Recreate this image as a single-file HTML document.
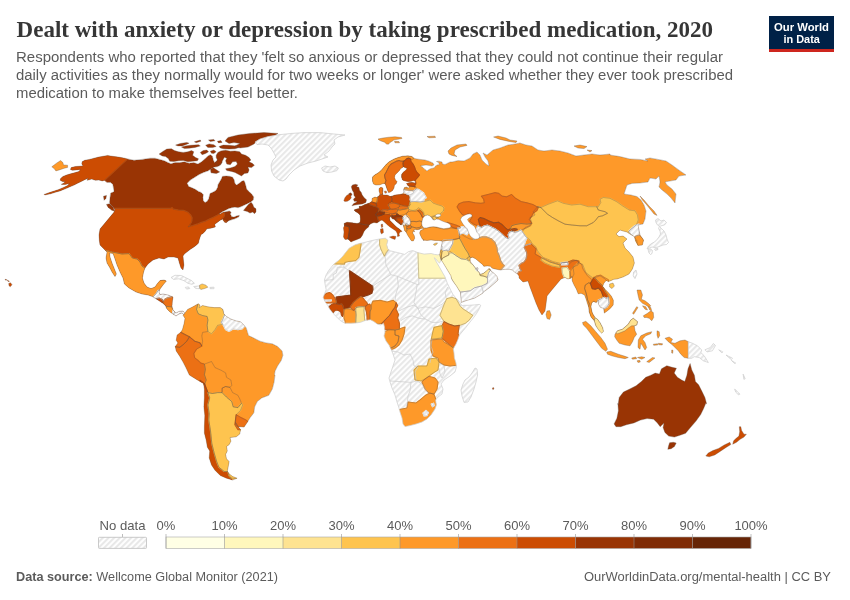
<!DOCTYPE html>
<html lang="en">
<head>
<meta charset="utf-8">
<title>Dealt with anxiety or depression by taking prescribed medication, 2020</title>
<style>
html,body{margin:0;padding:0;background:#fff;}
body{width:850px;height:600px;overflow:hidden;position:relative;font-family:"Liberation Sans",sans-serif;}
svg{position:absolute;left:0;top:0;}
.title{font-family:"Liberation Serif",serif;font-weight:bold;font-size:24px;fill:#363636;}
.sub{font-family:"Liberation Sans",sans-serif;font-size:14px;fill:#5b5b5b;}
.lg{font-family:"Liberation Sans",sans-serif;font-size:13px;fill:#5b5b5b;}
.ft{font-family:"Liberation Sans",sans-serif;font-size:12.5px;fill:#5b5b5b;}
.logo{font-family:"Liberation Sans",sans-serif;font-weight:bold;font-size:11.5px;fill:#fff;}
</style>
</head>
<body>
<svg width="850" height="600" viewBox="0 0 850 600">
<defs>
<pattern id="hatch" patternUnits="userSpaceOnUse" width="4" height="4" patternTransform="rotate(45)">
<rect width="4" height="4" fill="#fff"/>
<rect x="0" y="0" width="2.1" height="4" fill="#e8e8e8"/>
</pattern>
</defs>
<rect width="850" height="600" fill="#fff"/>
<!-- header -->
<text class="title" x="16.600" y="36.800" textLength="696.500" lengthAdjust="spacingAndGlyphs">Dealt with anxiety or depression by taking prescribed medication, 2020</text>
<text class="sub" x="16" y="62.100" textLength="707" lengthAdjust="spacingAndGlyphs">Respondents who reported that they 'felt so anxious or depressed that they could not continue their regular</text>
<text class="sub" x="16" y="80.200" textLength="717" lengthAdjust="spacingAndGlyphs">daily activities as they normally would for two weeks or longer' were asked whether they ever took prescribed</text>
<text class="sub" x="16" y="98" textLength="282" lengthAdjust="spacingAndGlyphs">medication to make themselves feel better.</text>
<!-- logo -->
<g id="logo">
<rect x="769" y="16" width="65" height="36" fill="#002147"/>
<rect x="769" y="49" width="65" height="3" fill="#ce261e"/>
<text class="logo" x="801.500" y="30.500" text-anchor="middle" textLength="55" lengthAdjust="spacingAndGlyphs">Our World</text>
<text class="logo" x="801.700" y="42.500" text-anchor="middle" textLength="36.500" lengthAdjust="spacingAndGlyphs">in Data</text>
</g>
<!-- map -->
<g id="map">
<defs>
<clipPath id="cp-nam"><path d="M127.6,158.9 122.4,157.7 116.5,156.8 111.8,156.2 107.6,155.4 103.5,156.2 98.8,157 94.1,158.2 89.4,159.4 84.7,160.3 82.1,161.7 81.8,163.8 82.9,165.9 80,166.2 75.3,166.5 71.2,167.6 70.4,169.5 72.4,170.3 76.5,169.9 80.6,169.5 78.8,171.5 75.3,172.6 70.6,173.8 66.5,175 62.9,176.5 60.6,178.5 60.2,180.3 62.4,181.5 65.3,181.7 63.5,183.2 61.2,184.4 65.3,184.4 69.4,183.6 67.6,185.6 63.5,187.4 58.8,189.5 54.1,191.1 49.4,192.6 44.1,194.4 44.7,195 50.6,193.8 55.3,192.3 60,190.9 64.7,189.1 69.4,187.1 74.1,185 77.6,183.2 81.2,181.5 84.7,179.7 88.2,178.2 87.1,180.3 91.8,179.1 95.3,180.3 98.8,180.1 102.4,180.9 104.5,180.3 107.1,182.4 110.6,182.6 112.9,184.4 113.5,188.5 114.1,191.5 112,192.6 110.6,193.2 110,197.9 109.4,202.6 110.6,205 113.5,207.4 114.7,209.1 114.1,212.1 100,229 99,235 99.4,241 100,245 105,250 107,252 106,258 107,263 110,268 112,272 115,276.6 116.4,274 114,268 112,263 110,257 109.6,253 113,253.4 115,259 117,265 120,272 123,278 124.4,284 129,288 136,292 142,294 148,295 152.4,296.6 157,299.4 161,302 165,305 167,309 170,312 173,314 176,316 179,314 182,313 184,315 184.4,312.6 183,311 179,311.4 176,313 173,310 172,306 172.4,301 173,297 168,295 163,294 160,294.6 159,292 160,289 163,285 166.4,281 164,280 160,280.6 157,284 155,287 151,288.6 147,287 144,283 142.4,278 143.6,272 145,268 148,264 153,260 159,258 164,259 168,257 174,257 178,258 179.4,263 181,268 183,270 183.9,265.1 183.4,259.9 183,256 184.3,254.1 186.9,252.1 190.1,249.5 194,246.9 196.6,245 198.5,243.1 198.9,241.1 199.8,237.9 201.1,234.6 202.4,234 205,231.4 206.9,228.8 210.8,228.2 215.4,226.9 214.7,224.3 217.3,222.4 219.9,220.4 221.6,219.5 222.4,219.1 224.6,222.3 226.2,222.7 228.4,220.9 231.6,219.8 234.9,218.8 238.7,217.1 239.4,215.3 237,215.8 233.8,217.1 231.6,216.4 230.5,214.2 231.1,212 229.4,210.9 226.2,211.5 222.9,212.6 220.2,214.2 219.1,213.9 221.9,212 225.1,210.4 228.4,208.8 231.6,207.7 234.9,207.2 238.1,207.7 241.4,206.6 244.6,205 247.9,203.4 251.1,201.7 253.3,200.1 253.8,196.9 251.7,194.1 249,191.4 246.8,189.3 246.2,187.1 245.2,183.3 244.1,180.6 241.9,181.1 239.2,183.3 236.5,184.9 234.9,183.3 234.3,180.1 232.7,177.3 230,176.3 226.2,176 222.4,176.3 221.3,179 219.7,181.7 218.1,184.4 217.5,187.6 215.9,190.4 213.2,192 209.9,193.6 209.4,195.8 208.8,198.5 207.2,201.2 205.1,202.5 203.4,200.7 202.9,197.4 203.4,194.7 201.3,192.5 198.6,191.4 195.3,189.3 191.5,187.6 188.8,186.6 187.2,183.3 190.4,180.1 194.8,177.3 199.1,174.6 203.4,172.5 208.3,170.8 210.5,169.2 214.4,167.1 217.4,166.7 220.3,165.3 222.1,162.4 220.9,159.4 218.5,158.8 216.8,160.8 214.4,162.4 213.2,159.4 212.4,156.1 210.3,154.7 207.9,155.9 205,158.8 201.5,161.8 197.9,163.9 193.8,162.6 189.1,163.2 184.4,161.8 179.7,162.6 175,162.6 170.9,163.8 167.9,162.4 164.4,160.8 159.7,159.4 155,158.2 150,158.2 142,159.4 134,160.2Z"/></clipPath>
<clipPath id="cp-sam"><path d="M185,312.9 187.6,309.4 192.9,306.8 198.2,303.8 200,305 199.1,307.6 202.6,305.5 207.9,306.8 214.1,307.6 220.3,307.6 222.9,309.4 223.8,313.8 226.5,316.5 230.9,319.1 236.2,320.9 240.6,321.8 244.1,325.3 246.2,327.9 247.6,332.4 248.5,335.5 252.9,337.6 260,341.2 266.2,342.9 272.3,343.8 277.6,346.5 282.1,350.9 282.9,355.3 281.2,360.6 277.6,365.9 275,371.2 274.5,374.9 275,375 274.1,382.1 272.3,389.1 268.8,395.3 261.8,397.9 257.3,401.5 254.7,406.8 253.8,412.9 250.3,417.4 247.6,421.8 244.1,427.1 237.9,426.5 235.6,422.6 237.9,426.2 240.6,429.7 239.7,434.1 236.2,436.8 230,437.6 230.9,441.2 229.1,444.7 226.5,446.5 227.3,450.9 225.6,454.4 226.5,458.8 229.1,461.5 228.2,466.8 227.3,471.2 229.1,473.8 232.6,476.5 237.1,478.2 232.6,480 226.5,478.2 220.3,475.6 215,470.3 211.5,465 209.2,457.9 209.7,450.9 207.4,447.3 206.2,440.3 204.4,433.2 204.4,426.2 204.8,415.6 203.9,406.8 204.4,397.9 204.4,389.1 203.5,383.5 196.5,379.4 189.4,375 185.9,367.6 183.2,362.3 179.7,356.2 176.2,350.9 175.3,346.5 177.9,342.9 176.2,340.3 177.1,335 180.6,332.4 182.4,329.7 184.1,323.5 185,318.2 183.2,315.6Z"/></clipPath>
<clipPath id="cp-afr"><path d="M359.7,243.5 365.9,242.1 372.9,240.3 380,238.9 385.3,238.2 387.9,240.3 386.7,244.7 387.9,249.1 390.6,250.9 397.6,252.6 404.7,254.4 408.2,251.8 412.6,250.5 417.9,252.6 424.1,254.1 431.2,253.5 434.4,254.4 437.5,254.8 439.8,254.4 441,259.4 440.5,261.2 439.5,263.1 437.5,261.2 435.6,258.8 434.4,257.8 435.6,260.6 437.5,263.8 440,268.1 442.5,272.5 445,276.9 447.3,283.3 450,288.7 452.7,294 455.3,297.3 458,300 460,302.7 461.3,304.7 460,306 464,305.3 469.3,305.3 474.7,304.9 479.3,304.4 480.7,305.3 479.3,308.7 476.7,313.3 473.3,318 470,322 466,327.3 462,332 459.3,335.3 458,339.3 456,344 453.3,348.7 454,353 454.4,358 456,363 456.4,367 455,372 450,376 444,380 441,384 443,389 442,394 438,397 435.6,400 436.4,405 435,409 431,415 427,419 422,422 416,424 410,425.6 405,426.6 403,424 402,418 400,412 399,408 397,402 395,395 392,388 390,382 389,378 391,372 393,366 395,360 393,354 391,349 389,345 386,341 384,336 385,332 384.4,326.8 383.5,323.2 380.9,325 377.3,324.1 373.8,321.5 370.3,319.7 365,320.6 360.6,322.3 356.2,322.9 350.9,323.2 344.7,323.2 340.3,320.6 336.8,317.1 333.2,313.5 329.7,309.1 327.9,305.6 325.3,302.1 323.2,297.6 324.4,294.1 326.2,289.7 325.3,285.3 324.4,280 326.2,274.7 328.8,270.3 332.4,265.9 335,263.2 338.5,260.6 342.1,257.1 345.6,252.6 349.1,248.2 355.3,244.7Z"/></clipPath>
<clipPath id="cp-eurasia"><path d="M351,242 349.5,240.5 348,239 345,239.5 343.5,237 344,232 343.5,228 344.5,225.5 344,223.5 347,222.2 352,222.8 357,223.5 360,222.5 360.5,219 360,215 358,213 355.5,211.5 354,210 356.5,209 359.5,208.5 359,206.5 362,206 365,204.5 368,203.5 370,202.8 372,201 372,198.5 375,197 376.5,197.5 379,196 380,194 379,191 379,188.5 381,187.2 382.8,188 383,190.5 382.5,193 383,195 387,195 390.5,196.5 395,195 400,194.5 403,193.5 404,192 403.5,189.5 404.5,187.5 407,187 408,188.5 409.5,187 407.5,185 406.5,183.5 409,182.8 412,182.5 415,183 416,182 414,180.5 411,181.2 408,181.5 405,181 402.5,180 401.5,177 401.5,174.5 403.5,172 406,170 407,168.5 405,167.5 403.5,166.8 402,167.8 400.5,168.8 399.5,170.5 397,173 395,175 394.5,177.5 395.5,180 397,181.5 396,184 394.5,185 394,188 392.5,190.5 390,192.2 388.5,192.5 387,189 386,186 385,183.5 383,183.5 380,184.8 376,185 373.5,184 372.5,181 372.5,177 374.5,175 378,173 381,170.5 384,167 386.5,164 389.5,161.5 394,159 398,157.5 402.5,156.2 408,155.8 412,156.5 414,158.2 417,159 421,159.5 425,160 429,161.2 433,163 434,165 432,166 429,165.5 426,165 423,165.5 420.5,166 423,167.5 425,169.5 427,171 429,169.5 431,168.5 434,168 435,166.5 437,165 439.5,164.5 438.5,162.5 436.5,161.5 439,161.2 442,162 442.5,164 445,164.5 448,163 450,162 452,162 458,160.6 464,161 470,158 473,154 477,152 480,155 482,160 486,164 489,166 488,161 485,157 483,153 487,155 493,150 500,148 508,145 515,144 520,143 526,145 532,146 538,150 544,151 552,150 560,151 568,153 576,156 584,155 592,154 600,155 610,154 610,155 620,156.6 630,159 640,159.4 648,161 645,159 650,158 658,159.4 666,161 672,165 678,169.4 686,175 679,176 676,180 670,181 665,182 667,185 672,189 676,194 675,203 671,198 667,194 662,190 659,187 660,182 659,176 656,179 650,178 648,182 640,183 632,183.4 627,185 624,194 631,195 637,196.6 641,200 644,205 646,211 645,219 643,224 638,225 638,225 639,230 640,235 643.6,240 642.4,245 638,245.4 635.6,241 634.4,236.6 631.6,235 629,233.4 627,232 623,231 620,230 616,234 619,236.6 623,236 627,239 623,243 625,248 629,252 633,257 634.4,263 632.4,269 629,274 623,277 617,279 613.8,279.3 611.4,280.4 608.5,281.6 606.2,280.4 603.8,283.3 602.7,286.3 605,289.2 608.5,292.7 611.4,296.2 613.4,300.3 613.2,304.9 610.3,308.4 606.8,311.3 604.4,313.1 603.8,309.6 603.8,308.4 600.3,307.3 598.6,304.3 598,300.3 596.3,302.6 593.3,301.4 591.6,303.2 591,306.7 591.6,310.2 592.5,313.3 595,317.5 597.5,319.2 600,322.5 602.6,327.4 603.5,331.4 601.7,333.2 599.2,330.8 595.8,325.8 594.2,320.8 590.9,316.7 589.1,311.7 588.7,306.7 587.5,303.8 586.3,299.7 584.6,295 581.1,293.3 578.2,293.8 576.4,289.2 574.1,285.1 572.3,281 571.8,276.3 571,278 568,279 565,277.4 561,279 556,285 551,291 547,296 546,304 545,311 542,315 539,310 536,303 533,295 530,287 528,281 523,282 519,278 519,276 517.5,273.8 515.6,273 514.1,271.5 512.3,270 509.3,269.3 505.5,269.3 502.5,269.6 500.6,270 498,269.6 495,268.9 492,268.1 490.5,266.3 487.5,265.9 483.8,266.3 482.5,264.4 479.4,261.9 475.6,258.8 472.5,257.2 470.6,257.8 470,258.8 470.6,261.9 473.1,265 475.6,268.1 476,269.4 476.9,267.5 478.1,268.1 477.5,270.6 479.4,272.5 480,274.4 483.8,273.1 486.9,270.6 488.8,268.8 489.8,268.8 491.2,271.2 493.8,273.1 496.9,276.2 498.1,280 496.3,281.7 492.9,284.7 489.4,287.7 485.9,290.3 483.3,292.1 482.5,293.4 479,295.5 474.7,298.1 470.3,299.4 466,300.7 461.2,302.5 461.2,300.7 460.8,296.4 460.4,292.5 458.6,289.5 456.5,286 453.9,282.5 451.7,279.1 450.8,275.6 448.7,272.1 446.1,267.8 443.5,263.5 441.3,260 441,259.4 439.8,254.4 440.2,251.9 441,248.8 441.5,245.6 442.2,242.5 442,241 439,240.5 435,240.5 431,240 427,240.5 423,240 424,240.3 422.3,239 421.3,237 420.3,235 419.7,233 420.3,231 421.3,230 423.7,229.3 423.3,228.3 421.3,228.5 419.3,229.3 417,229.7 415,229.3 413.7,230 414.7,231.7 413,231.3 412.7,233 414.3,235.7 414.7,238.3 413.3,241 411.3,240.7 409.7,238.3 408,235.7 406.7,233.3 406,231.7 404.7,230.7 404,228 403.3,225.3 402.2,224.3 401,225 398.3,222.9 395.7,220.9 394.3,219.3 392,218.7 391.3,217.3 391,216 389.5,218 390,220.5 393,223.5 396.5,227 400,229.5 402,231.5 400,232 399,234 399.5,236 397.5,236.5 397.5,234 396,231 393,229 390,227 387,224.5 384.5,222 382,220 379.5,221 379,221.5 377,223 374,222.5 371,223.5 369,225.2 368.5,227 366,229 364,231.5 362.5,235 360.5,238 357,239.5 353,241Z"/></clipPath>
</defs>
<g clip-path="url(#cp-nam)">
<path d="M127.6,158.9 122.4,157.7 116.5,156.8 111.8,156.2 107.6,155.4 103.5,156.2 98.8,157 94.1,158.2 89.4,159.4 84.7,160.3 82.1,161.7 81.8,163.8 82.9,165.9 80,166.2 75.3,166.5 71.2,167.6 70.4,169.5 72.4,170.3 76.5,169.9 80.6,169.5 78.8,171.5 75.3,172.6 70.6,173.8 66.5,175 62.9,176.5 60.6,178.5 60.2,180.3 62.4,181.5 65.3,181.7 63.5,183.2 61.2,184.4 65.3,184.4 69.4,183.6 67.6,185.6 63.5,187.4 58.8,189.5 54.1,191.1 49.4,192.6 44.1,194.4 44.7,195 50.6,193.8 55.3,192.3 60,190.9 64.7,189.1 69.4,187.1 74.1,185 77.6,183.2 81.2,181.5 84.7,179.7 88.2,178.2 87.1,180.3 91.8,179.1 95.3,180.3 98.8,180.1 102.4,180.9 104.5,180.3 107.1,182.4 110.6,182.6 112.9,184.4 113.5,188.5 114.1,191.5 112,192.6 110.6,193.2 110,197.9 109.4,202.6 110.6,205 113.5,207.4 114.7,209.1 114.1,212.1 100,229 99,235 99.4,241 100,245 105,250 107,252 106,258 107,263 110,268 112,272 115,276.6 116.4,274 114,268 112,263 110,257 109.6,253 113,253.4 115,259 117,265 120,272 123,278 124.4,284 129,288 136,292 142,294 148,295 152.4,296.6 157,299.4 161,302 165,305 167,309 170,312 173,314 176,316 179,314 182,313 184,315 184.4,312.6 183,311 179,311.4 176,313 173,310 172,306 172.4,301 173,297 168,295 163,294 160,294.6 159,292 160,289 163,285 166.4,281 164,280 160,280.6 157,284 155,287 151,288.6 147,287 144,283 142.4,278 143.6,272 145,268 148,264 153,260 159,258 164,259 168,257 174,257 178,258 179.4,263 181,268 183,270 183.9,265.1 183.4,259.9 183,256 184.3,254.1 186.9,252.1 190.1,249.5 194,246.9 196.6,245 198.5,243.1 198.9,241.1 199.8,237.9 201.1,234.6 202.4,234 205,231.4 206.9,228.8 210.8,228.2 215.4,226.9 214.7,224.3 217.3,222.4 219.9,220.4 221.6,219.5 222.4,219.1 224.6,222.3 226.2,222.7 228.4,220.9 231.6,219.8 234.9,218.8 238.7,217.1 239.4,215.3 237,215.8 233.8,217.1 231.6,216.4 230.5,214.2 231.1,212 229.4,210.9 226.2,211.5 222.9,212.6 220.2,214.2 219.1,213.9 221.9,212 225.1,210.4 228.4,208.8 231.6,207.7 234.9,207.2 238.1,207.7 241.4,206.6 244.6,205 247.9,203.4 251.1,201.7 253.3,200.1 253.8,196.9 251.7,194.1 249,191.4 246.8,189.3 246.2,187.1 245.2,183.3 244.1,180.6 241.9,181.1 239.2,183.3 236.5,184.9 234.9,183.3 234.3,180.1 232.7,177.3 230,176.3 226.2,176 222.4,176.3 221.3,179 219.7,181.7 218.1,184.4 217.5,187.6 215.9,190.4 213.2,192 209.9,193.6 209.4,195.8 208.8,198.5 207.2,201.2 205.1,202.5 203.4,200.7 202.9,197.4 203.4,194.7 201.3,192.5 198.6,191.4 195.3,189.3 191.5,187.6 188.8,186.6 187.2,183.3 190.4,180.1 194.8,177.3 199.1,174.6 203.4,172.5 208.3,170.8 210.5,169.2 214.4,167.1 217.4,166.7 220.3,165.3 222.1,162.4 220.9,159.4 218.5,158.8 216.8,160.8 214.4,162.4 213.2,159.4 212.4,156.1 210.3,154.7 207.9,155.9 205,158.8 201.5,161.8 197.9,163.9 193.8,162.6 189.1,163.2 184.4,161.8 179.7,162.6 175,162.6 170.9,163.8 167.9,162.4 164.4,160.8 159.7,159.4 155,158.2 150,158.2 142,159.4 134,160.2Z" fill="#993404"/>
<path d="M127.6,158.9 104.5,180.3 107.6,183.8 110.6,185.6 111.3,192.1 105.9,195 75.3,200.3 34.1,200.3 34.1,145 127.6,145Z" fill="#cc4c02" stroke="#cc4c02" stroke-width="1.2" stroke-linejoin="round"/>
<path d="M114,208.4 170.7,208.4 172,207.5 173.3,209.2 178.5,210.1 183.6,210.4 187.5,212 190.8,215.2 192.1,217.8 191.7,221.7 190.1,224.3 188.2,226.9 192.7,225.6 197.9,223.9 201.8,222.4 205.6,221.1 209.5,219.1 213.4,217.2 217.3,215.2 220.5,213.3 223.1,212.3 224.5,213 224.5,215.2 224,216.5 222.5,218.2 221.6,219.5 235,225 235,280 160,280 145.5,268.5 142,266 140,262 137,259 132.4,258 129,253.6 122,254 112,252 105,250.4 90,250 90,205Z" fill="#cc4c02" stroke="#cc4c02" stroke-width="1.2" stroke-linejoin="round"/>
<path d="M105,250.4 112,252 122,254 129,253.6 132.4,258 137,259 140,262 142,266 145.5,268.5 150,270 175,272 175,285 162.3,287.4 160.7,290 158.1,290.4 156.2,293.6 152.3,297.8 140,305 100,290 95,250Z" fill="#fe9929" stroke="#fe9929" stroke-width="1.2" stroke-linejoin="round"/>
<path d="M152.3,297.8 156.2,293.6 158.1,290.4 160.7,290 162.3,287.4 178.8,287.8 176.2,295.6 172.4,296.6 167.8,297.8 165.2,298.8 163.3,301.2 162.3,299.5 159.4,298.2 156.6,298.6 154.2,298.8Z" fill="url(#hatch)" stroke="url(#hatch)" stroke-width="1.2" stroke-linejoin="round"/>
<path d="M156.6,298.6 159.4,298.2 162.3,299.5 163.3,301.4 160.7,302.7 157.5,301.2Z" fill="#cc4c02" stroke="#cc4c02" stroke-width="1.2" stroke-linejoin="round"/>
<path d="M163.3,301.2 165.2,298.8 167.8,297.8 172.4,296.6 174.9,297.5 173.6,304 171.3,306.8 169.1,306.6 166.5,306.3 163.9,304Z" fill="#ec7014" stroke="#ec7014" stroke-width="1.2" stroke-linejoin="round"/>
<path d="M166.5,306.3 169.1,306.6 171.3,306.8 173,309.8 174.9,311.8 173,315 169.8,313.7 165.9,309.8Z" fill="#fe9929" stroke="#fe9929" stroke-width="1.2" stroke-linejoin="round"/>
<path d="M173,309.8 174.9,309.2 186.6,309.2 186.6,318.2 173.6,318.2 172.4,314.4Z" fill="url(#hatch)" stroke="url(#hatch)" stroke-width="1.2" stroke-linejoin="round"/>
<path d="M152.3,297.8 156.2,293.6 158.1,290.4 160.7,290 162.3,287.4 178.8,287.8 176.2,295.6 172.4,296.6 167.8,297.8 165.2,298.8 163.3,301.2 162.3,299.5 159.4,298.2 156.6,298.6 154.2,298.8Z" fill="none" stroke="#cdcdcd" stroke-width=".7" stroke-linejoin="round"/>
<path d="M173,309.8 174.9,309.2 186.6,309.2 186.6,318.2 173.6,318.2 172.4,314.4Z" fill="none" stroke="#cdcdcd" stroke-width=".7" stroke-linejoin="round"/>
<path d="M127.6,158.9 104.5,180.3 107.6,183.8 110.6,185.6 111.3,192.1 105.9,195 75.3,200.3 34.1,200.3 34.1,145 127.6,145Z" fill="none" stroke="#5e5048" stroke-opacity=".65" stroke-width=".5" stroke-linejoin="round"/>
<path d="M114,208.4 170.7,208.4 172,207.5 173.3,209.2 178.5,210.1 183.6,210.4 187.5,212 190.8,215.2 192.1,217.8 191.7,221.7 190.1,224.3 188.2,226.9 192.7,225.6 197.9,223.9 201.8,222.4 205.6,221.1 209.5,219.1 213.4,217.2 217.3,215.2 220.5,213.3 223.1,212.3 224.5,213 224.5,215.2 224,216.5 222.5,218.2 221.6,219.5 235,225 235,280 160,280 145.5,268.5 142,266 140,262 137,259 132.4,258 129,253.6 122,254 112,252 105,250.4 90,250 90,205Z" fill="none" stroke="#5e5048" stroke-opacity=".65" stroke-width=".5" stroke-linejoin="round"/>
<path d="M105,250.4 112,252 122,254 129,253.6 132.4,258 137,259 140,262 142,266 145.5,268.5 150,270 175,272 175,285 162.3,287.4 160.7,290 158.1,290.4 156.2,293.6 152.3,297.8 140,305 100,290 95,250Z" fill="none" stroke="#5e5048" stroke-opacity=".65" stroke-width=".5" stroke-linejoin="round"/>
<path d="M156.6,298.6 159.4,298.2 162.3,299.5 163.3,301.4 160.7,302.7 157.5,301.2Z" fill="none" stroke="#5e5048" stroke-opacity=".65" stroke-width=".5" stroke-linejoin="round"/>
<path d="M163.3,301.2 165.2,298.8 167.8,297.8 172.4,296.6 174.9,297.5 173.6,304 171.3,306.8 169.1,306.6 166.5,306.3 163.9,304Z" fill="none" stroke="#5e5048" stroke-opacity=".65" stroke-width=".5" stroke-linejoin="round"/>
<path d="M166.5,306.3 169.1,306.6 171.3,306.8 173,309.8 174.9,311.8 173,315 169.8,313.7 165.9,309.8Z" fill="none" stroke="#5e5048" stroke-opacity=".65" stroke-width=".5" stroke-linejoin="round"/>
</g>
<path d="M127.6,158.9 122.4,157.7 116.5,156.8 111.8,156.2 107.6,155.4 103.5,156.2 98.8,157 94.1,158.2 89.4,159.4 84.7,160.3 82.1,161.7 81.8,163.8 82.9,165.9 80,166.2 75.3,166.5 71.2,167.6 70.4,169.5 72.4,170.3 76.5,169.9 80.6,169.5 78.8,171.5 75.3,172.6 70.6,173.8 66.5,175 62.9,176.5 60.6,178.5 60.2,180.3 62.4,181.5 65.3,181.7 63.5,183.2 61.2,184.4 65.3,184.4 69.4,183.6 67.6,185.6 63.5,187.4 58.8,189.5 54.1,191.1 49.4,192.6 44.1,194.4 44.7,195 50.6,193.8 55.3,192.3 60,190.9 64.7,189.1 69.4,187.1 74.1,185 77.6,183.2 81.2,181.5 84.7,179.7 88.2,178.2 87.1,180.3 91.8,179.1 95.3,180.3 98.8,180.1 102.4,180.9 104.5,180.3 107.1,182.4 110.6,182.6 112.9,184.4 113.5,188.5 114.1,191.5 112,192.6 110.6,193.2 110,197.9 109.4,202.6 110.6,205 113.5,207.4 114.7,209.1 114.1,212.1 100,229 99,235 99.4,241 100,245 105,250 107,252 106,258 107,263 110,268 112,272 115,276.6 116.4,274 114,268 112,263 110,257 109.6,253 113,253.4 115,259 117,265 120,272 123,278 124.4,284 129,288 136,292 142,294 148,295 152.4,296.6 157,299.4 161,302 165,305 167,309 170,312 173,314 176,316 179,314 182,313 184,315 184.4,312.6 183,311 179,311.4 176,313 173,310 172,306 172.4,301 173,297 168,295 163,294 160,294.6 159,292 160,289 163,285 166.4,281 164,280 160,280.6 157,284 155,287 151,288.6 147,287 144,283 142.4,278 143.6,272 145,268 148,264 153,260 159,258 164,259 168,257 174,257 178,258 179.4,263 181,268 183,270 183.9,265.1 183.4,259.9 183,256 184.3,254.1 186.9,252.1 190.1,249.5 194,246.9 196.6,245 198.5,243.1 198.9,241.1 199.8,237.9 201.1,234.6 202.4,234 205,231.4 206.9,228.8 210.8,228.2 215.4,226.9 214.7,224.3 217.3,222.4 219.9,220.4 221.6,219.5 222.4,219.1 224.6,222.3 226.2,222.7 228.4,220.9 231.6,219.8 234.9,218.8 238.7,217.1 239.4,215.3 237,215.8 233.8,217.1 231.6,216.4 230.5,214.2 231.1,212 229.4,210.9 226.2,211.5 222.9,212.6 220.2,214.2 219.1,213.9 221.9,212 225.1,210.4 228.4,208.8 231.6,207.7 234.9,207.2 238.1,207.7 241.4,206.6 244.6,205 247.9,203.4 251.1,201.7 253.3,200.1 253.8,196.9 251.7,194.1 249,191.4 246.8,189.3 246.2,187.1 245.2,183.3 244.1,180.6 241.9,181.1 239.2,183.3 236.5,184.9 234.9,183.3 234.3,180.1 232.7,177.3 230,176.3 226.2,176 222.4,176.3 221.3,179 219.7,181.7 218.1,184.4 217.5,187.6 215.9,190.4 213.2,192 209.9,193.6 209.4,195.8 208.8,198.5 207.2,201.2 205.1,202.5 203.4,200.7 202.9,197.4 203.4,194.7 201.3,192.5 198.6,191.4 195.3,189.3 191.5,187.6 188.8,186.6 187.2,183.3 190.4,180.1 194.8,177.3 199.1,174.6 203.4,172.5 208.3,170.8 210.5,169.2 214.4,167.1 217.4,166.7 220.3,165.3 222.1,162.4 220.9,159.4 218.5,158.8 216.8,160.8 214.4,162.4 213.2,159.4 212.4,156.1 210.3,154.7 207.9,155.9 205,158.8 201.5,161.8 197.9,163.9 193.8,162.6 189.1,163.2 184.4,161.8 179.7,162.6 175,162.6 170.9,163.8 167.9,162.4 164.4,160.8 159.7,159.4 155,158.2 150,158.2 142,159.4 134,160.2Z" fill="none" stroke="#5e5048" stroke-opacity=".65" stroke-width=".5" stroke-linejoin="round"/>
<g clip-path="url(#cp-sam)">
<path d="M185,312.9 187.6,309.4 192.9,306.8 198.2,303.8 200,305 199.1,307.6 202.6,305.5 207.9,306.8 214.1,307.6 220.3,307.6 222.9,309.4 223.8,313.8 226.5,316.5 230.9,319.1 236.2,320.9 240.6,321.8 244.1,325.3 246.2,327.9 247.6,332.4 248.5,335.5 252.9,337.6 260,341.2 266.2,342.9 272.3,343.8 277.6,346.5 282.1,350.9 282.9,355.3 281.2,360.6 277.6,365.9 275,371.2 274.5,374.9 275,375 274.1,382.1 272.3,389.1 268.8,395.3 261.8,397.9 257.3,401.5 254.7,406.8 253.8,412.9 250.3,417.4 247.6,421.8 244.1,427.1 237.9,426.5 235.6,422.6 237.9,426.2 240.6,429.7 239.7,434.1 236.2,436.8 230,437.6 230.9,441.2 229.1,444.7 226.5,446.5 227.3,450.9 225.6,454.4 226.5,458.8 229.1,461.5 228.2,466.8 227.3,471.2 229.1,473.8 232.6,476.5 237.1,478.2 232.6,480 226.5,478.2 220.3,475.6 215,470.3 211.5,465 209.2,457.9 209.7,450.9 207.4,447.3 206.2,440.3 204.4,433.2 204.4,426.2 204.8,415.6 203.9,406.8 204.4,397.9 204.4,389.1 203.5,383.5 196.5,379.4 189.4,375 185.9,367.6 183.2,362.3 179.7,356.2 176.2,350.9 175.3,346.5 177.9,342.9 176.2,340.3 177.1,335 180.6,332.4 182.4,329.7 184.1,323.5 185,318.2 183.2,315.6Z" fill="#fe9929"/>
<path d="M198.2,302.4 196.5,309.4 198.2,313.8 202.6,315.6 207.1,316.5 207.9,320 207.1,325.3 207.9,331.5 202.6,332.4 201.8,335.9 202.6,341.2 201.8,346.1 200,342.9 194.7,341.2 189.4,336.8 185.9,335 180.9,332.4 177.1,330.6 178.8,307.6 191.2,300.6Z" fill="#fe9929" stroke="#fe9929" stroke-width="1.2" stroke-linejoin="round"/>
<path d="M198.2,302.4 196.5,309.4 198.2,313.8 202.6,315.6 207.1,316.5 207.9,320 207.1,325.3 207.9,331.5 211.5,333.8 215,329.7 217.6,325.3 222.9,324.4 221.2,322.6 222.9,319.1 224.7,314.7 222.9,309.4 222.9,304.1Z" fill="#fec44f" stroke="#fec44f" stroke-width="1.2" stroke-linejoin="round"/>
<path d="M222.9,307.6 224.7,314.7 222.9,319.1 221.2,322.6 222.9,324.4 225.6,329.7 229.1,331.5 233.5,328.8 237.9,329.7 242.3,328.8 245.5,325.3 247.6,321.8 231.8,311.2Z" fill="url(#hatch)" stroke="url(#hatch)" stroke-width="1.2" stroke-linejoin="round"/>
<path d="M180.9,332.4 185.9,335 189.4,336.8 186.8,341.2 183.2,344.7 179.7,347.3 173.5,346.5 173.5,332.4Z" fill="#ec7014" stroke="#ec7014" stroke-width="1.2" stroke-linejoin="round"/>
<path d="M179.7,347.3 183.2,344.7 186.8,341.2 189.4,336.8 194.7,341.2 200,342.9 201.8,346.1 196.5,349.1 193.8,353.5 194.7,357.9 198.2,360.6 200.9,363.2 204.4,364.1 205.3,369.4 204.4,374.7 206.2,380 204.9,384.4 196.5,385.3 173.5,357.1 173.5,346.5Z" fill="#ec7014" stroke="#ec7014" stroke-width="1.2" stroke-linejoin="round"/>
<path d="M204.4,364.1 211.5,361.5 215,367.6 221.2,370.3 225.6,372.9 226.5,377.3 230.9,380 231.8,385.3 230,387.4 225.6,386.5 222.1,388.2 222.1,392.6 217.6,392.6 212.4,393.5 207.9,392.6 204.4,383.5 206.2,380 204.4,374.7 205.3,369.4Z" fill="#fe9929" stroke="#fe9929" stroke-width="1.2" stroke-linejoin="round"/>
<path d="M222.1,388.2 225.6,386.5 230,387.4 232.6,392.6 237.9,395.3 239.7,398.8 241.5,403.2 237.9,407.6 233.2,406.8 231.8,401.5 226.5,397.1 222.1,392.6Z" fill="#fe9929" stroke="#fe9929" stroke-width="1.2" stroke-linejoin="round"/>
<path d="M200,380.3 204.4,383.5 207.9,392.6 209.7,397.9 207.9,405 209.2,413.8 208.8,420 210.6,431.8 211.8,443.5 214.1,452.9 216.5,461.2 218.8,467.1 224.1,471.5 227.9,471.5 228.8,475.3 230.9,477.9 232.4,482.4 201.8,482.4 199.4,420Z" fill="#cc4c02" stroke="#cc4c02" stroke-width="1.2" stroke-linejoin="round"/>
<path d="M207.9,392.6 212.4,393.5 217.6,392.6 222.1,392.6 226.5,397.1 231.8,401.5 233.2,406.8 237.9,407.6 241.5,403.2 242.7,405 240.6,410.3 236.2,414.7 235.6,419.1 235.3,424.4 244.1,433.2 248.8,443.5 248.8,481.2 230.9,477.9 228.8,475.3 227.9,471.5 224.1,471.5 218.8,467.1 216.5,461.2 214.1,452.9 211.8,443.5 210.6,431.8 208.8,420 209.2,413.8 207.9,405 209.7,397.9Z" fill="#fec44f" stroke="#fec44f" stroke-width="1.2" stroke-linejoin="round"/>
<path d="M236.2,414.7 240.6,417.4 245.9,420 248,421.8 247.6,429.7 237.9,429.7 234.9,424.8 235.6,419.1Z" fill="#ec7014" stroke="#ec7014" stroke-width="1.2" stroke-linejoin="round"/>
<path d="M222.9,307.6 224.7,314.7 222.9,319.1 221.2,322.6 222.9,324.4 225.6,329.7 229.1,331.5 233.5,328.8 237.9,329.7 242.3,328.8 245.5,325.3 247.6,321.8 231.8,311.2Z" fill="none" stroke="#cdcdcd" stroke-width=".7" stroke-linejoin="round"/>
<path d="M198.2,302.4 196.5,309.4 198.2,313.8 202.6,315.6 207.1,316.5 207.9,320 207.1,325.3 207.9,331.5 202.6,332.4 201.8,335.9 202.6,341.2 201.8,346.1 200,342.9 194.7,341.2 189.4,336.8 185.9,335 180.9,332.4 177.1,330.6 178.8,307.6 191.2,300.6Z" fill="none" stroke="#5e5048" stroke-opacity=".65" stroke-width=".5" stroke-linejoin="round"/>
<path d="M198.2,302.4 196.5,309.4 198.2,313.8 202.6,315.6 207.1,316.5 207.9,320 207.1,325.3 207.9,331.5 211.5,333.8 215,329.7 217.6,325.3 222.9,324.4 221.2,322.6 222.9,319.1 224.7,314.7 222.9,309.4 222.9,304.1Z" fill="none" stroke="#5e5048" stroke-opacity=".65" stroke-width=".5" stroke-linejoin="round"/>
<path d="M180.9,332.4 185.9,335 189.4,336.8 186.8,341.2 183.2,344.7 179.7,347.3 173.5,346.5 173.5,332.4Z" fill="none" stroke="#5e5048" stroke-opacity=".65" stroke-width=".5" stroke-linejoin="round"/>
<path d="M179.7,347.3 183.2,344.7 186.8,341.2 189.4,336.8 194.7,341.2 200,342.9 201.8,346.1 196.5,349.1 193.8,353.5 194.7,357.9 198.2,360.6 200.9,363.2 204.4,364.1 205.3,369.4 204.4,374.7 206.2,380 204.9,384.4 196.5,385.3 173.5,357.1 173.5,346.5Z" fill="none" stroke="#5e5048" stroke-opacity=".65" stroke-width=".5" stroke-linejoin="round"/>
<path d="M204.4,364.1 211.5,361.5 215,367.6 221.2,370.3 225.6,372.9 226.5,377.3 230.9,380 231.8,385.3 230,387.4 225.6,386.5 222.1,388.2 222.1,392.6 217.6,392.6 212.4,393.5 207.9,392.6 204.4,383.5 206.2,380 204.4,374.7 205.3,369.4Z" fill="none" stroke="#5e5048" stroke-opacity=".65" stroke-width=".5" stroke-linejoin="round"/>
<path d="M222.1,388.2 225.6,386.5 230,387.4 232.6,392.6 237.9,395.3 239.7,398.8 241.5,403.2 237.9,407.6 233.2,406.8 231.8,401.5 226.5,397.1 222.1,392.6Z" fill="none" stroke="#5e5048" stroke-opacity=".65" stroke-width=".5" stroke-linejoin="round"/>
<path d="M200,380.3 204.4,383.5 207.9,392.6 209.7,397.9 207.9,405 209.2,413.8 208.8,420 210.6,431.8 211.8,443.5 214.1,452.9 216.5,461.2 218.8,467.1 224.1,471.5 227.9,471.5 228.8,475.3 230.9,477.9 232.4,482.4 201.8,482.4 199.4,420Z" fill="none" stroke="#5e5048" stroke-opacity=".65" stroke-width=".5" stroke-linejoin="round"/>
<path d="M207.9,392.6 212.4,393.5 217.6,392.6 222.1,392.6 226.5,397.1 231.8,401.5 233.2,406.8 237.9,407.6 241.5,403.2 242.7,405 240.6,410.3 236.2,414.7 235.6,419.1 235.3,424.4 244.1,433.2 248.8,443.5 248.8,481.2 230.9,477.9 228.8,475.3 227.9,471.5 224.1,471.5 218.8,467.1 216.5,461.2 214.1,452.9 211.8,443.5 210.6,431.8 208.8,420 209.2,413.8 207.9,405 209.7,397.9Z" fill="none" stroke="#5e5048" stroke-opacity=".65" stroke-width=".5" stroke-linejoin="round"/>
<path d="M236.2,414.7 240.6,417.4 245.9,420 248,421.8 247.6,429.7 237.9,429.7 234.9,424.8 235.6,419.1Z" fill="none" stroke="#5e5048" stroke-opacity=".65" stroke-width=".5" stroke-linejoin="round"/>
</g>
<path d="M185,312.9 187.6,309.4 192.9,306.8 198.2,303.8 200,305 199.1,307.6 202.6,305.5 207.9,306.8 214.1,307.6 220.3,307.6 222.9,309.4 223.8,313.8 226.5,316.5 230.9,319.1 236.2,320.9 240.6,321.8 244.1,325.3 246.2,327.9 247.6,332.4 248.5,335.5 252.9,337.6 260,341.2 266.2,342.9 272.3,343.8 277.6,346.5 282.1,350.9 282.9,355.3 281.2,360.6 277.6,365.9 275,371.2 274.5,374.9 275,375 274.1,382.1 272.3,389.1 268.8,395.3 261.8,397.9 257.3,401.5 254.7,406.8 253.8,412.9 250.3,417.4 247.6,421.8 244.1,427.1 237.9,426.5 235.6,422.6 237.9,426.2 240.6,429.7 239.7,434.1 236.2,436.8 230,437.6 230.9,441.2 229.1,444.7 226.5,446.5 227.3,450.9 225.6,454.4 226.5,458.8 229.1,461.5 228.2,466.8 227.3,471.2 229.1,473.8 232.6,476.5 237.1,478.2 232.6,480 226.5,478.2 220.3,475.6 215,470.3 211.5,465 209.2,457.9 209.7,450.9 207.4,447.3 206.2,440.3 204.4,433.2 204.4,426.2 204.8,415.6 203.9,406.8 204.4,397.9 204.4,389.1 203.5,383.5 196.5,379.4 189.4,375 185.9,367.6 183.2,362.3 179.7,356.2 176.2,350.9 175.3,346.5 177.9,342.9 176.2,340.3 177.1,335 180.6,332.4 182.4,329.7 184.1,323.5 185,318.2 183.2,315.6Z" fill="none" stroke="#5e5048" stroke-opacity=".65" stroke-width=".5" stroke-linejoin="round"/>
<g clip-path="url(#cp-afr)">
<path d="M359.7,243.5 365.9,242.1 372.9,240.3 380,238.9 385.3,238.2 387.9,240.3 386.7,244.7 387.9,249.1 390.6,250.9 397.6,252.6 404.7,254.4 408.2,251.8 412.6,250.5 417.9,252.6 424.1,254.1 431.2,253.5 434.4,254.4 437.5,254.8 439.8,254.4 441,259.4 440.5,261.2 439.5,263.1 437.5,261.2 435.6,258.8 434.4,257.8 435.6,260.6 437.5,263.8 440,268.1 442.5,272.5 445,276.9 447.3,283.3 450,288.7 452.7,294 455.3,297.3 458,300 460,302.7 461.3,304.7 460,306 464,305.3 469.3,305.3 474.7,304.9 479.3,304.4 480.7,305.3 479.3,308.7 476.7,313.3 473.3,318 470,322 466,327.3 462,332 459.3,335.3 458,339.3 456,344 453.3,348.7 454,353 454.4,358 456,363 456.4,367 455,372 450,376 444,380 441,384 443,389 442,394 438,397 435.6,400 436.4,405 435,409 431,415 427,419 422,422 416,424 410,425.6 405,426.6 403,424 402,418 400,412 399,408 397,402 395,395 392,388 390,382 389,378 391,372 393,366 395,360 393,354 391,349 389,345 386,341 384,336 385,332 384.4,326.8 383.5,323.2 380.9,325 377.3,324.1 373.8,321.5 370.3,319.7 365,320.6 360.6,322.3 356.2,322.9 350.9,323.2 344.7,323.2 340.3,320.6 336.8,317.1 333.2,313.5 329.7,309.1 327.9,305.6 325.3,302.1 323.2,297.6 324.4,294.1 326.2,289.7 325.3,285.3 324.4,280 326.2,274.7 328.8,270.3 332.4,265.9 335,263.2 338.5,260.6 342.1,257.1 345.6,252.6 349.1,248.2 355.3,244.7Z" fill="url(#hatch)"/>
<path d="M361.2,243.4 359.9,251.6 358.9,257.4 355.4,260.7 348.8,261.5 344.7,262.5 344.7,264.1 334.5,263.8 329.9,266.4 329.9,254.9 349.7,241.7Z" fill="#fec44f" stroke="#fec44f" stroke-width="1.2" stroke-linejoin="round"/>
<path d="M379.6,237.6 386.2,236.8 389.7,240.3 387.4,244.7 388.8,249.1 386.2,252.6 384.4,256.2 382.6,252.6 380.9,249.1 379.6,244.7Z" fill="#fee391" stroke="#fee391" stroke-width="1.2" stroke-linejoin="round"/>
<path d="M417.9,250.9 418.8,278.2 445.3,278.2 448.8,275.6 442.5,262.5 441,259.4 439.8,254.4 439.8,251.9Z" fill="#fff7bc" stroke="#fff7bc" stroke-width="1.2" stroke-linejoin="round"/>
<path d="M349.4,270.7 350,271 372.7,286.2 372.9,289.5 371.8,293.3 368.8,294.8 364.3,296.3 360.9,296.6 357.5,298.9 354.9,301.1 353,303 351.1,305.6 350,307.5 346.6,308.3 344,309 342.9,306.4 341.8,303.8 339.5,304.5 336.5,303.8 336.1,300 336.1,297 350.8,295.1 350.4,285 349.9,277.5Z" fill="#993404" stroke="#993404" stroke-width="1.2" stroke-linejoin="round"/>
<path d="M321.5,297.8 324.9,294.8 326.8,293.3 329.4,292.5 331.3,293.6 333.1,295.5 334.6,297.8 335.8,300 336.5,302.6 334.3,303 331.3,302.6 328.3,303 325.3,303 321.5,303Z" fill="#ec7014" stroke="#ec7014" stroke-width="1.2" stroke-linejoin="round"/>
<path d="M323,300.2 327.5,300.1 331.3,299.9 331.3,300.8 327.5,301.1 323,301.2Z" fill="url(#hatch)" stroke="url(#hatch)" stroke-width="1.2" stroke-linejoin="round"/>
<path d="M329,306.8 331.3,304.9 333.5,303.8 336.5,303.8 339.5,304.5 341.8,303.8 343.3,306.4 344,309.8 343.6,313.5 342.5,316.5 341.4,315 341,312.4 339.5,310.9 337.6,310.1 335.8,309.8 334.3,310.9 332.8,312.8 331.3,310.5 329.8,308.6 327.5,307.5Z" fill="#cc4c02" stroke="#cc4c02" stroke-width="1.2" stroke-linejoin="round"/>
<path d="M344,309.8 346.6,308.9 350,309 351.9,309.8 353.4,310.5 355.6,310.9 356,315 355.9,318.8 355.6,324 345.5,324.8 345.1,321 344,318 343.9,313.5Z" fill="#fe9929" stroke="#fe9929" stroke-width="1.2" stroke-linejoin="round"/>
<path d="M351.1,305.6 353,303 354.9,301.1 357.5,298.9 360.9,296.6 363.1,298.1 365,300.8 366.9,302.6 367.6,304.5 365.4,306.2 362.4,306.6 359,306.9 356,307.4 355.4,309.2 353.4,310.1 351.9,308.6 350,307.5Z" fill="#ec7014" stroke="#ec7014" stroke-width="1.2" stroke-linejoin="round"/>
<path d="M356,307.5 359,306.9 362.4,306.8 364.3,307.1 363.9,310.5 364.3,315 364.6,318.8 364.6,324 355.9,324 355.9,318.8 356.2,315 355.9,310.9Z" fill="#fee391" stroke="#fee391" stroke-width="1.2" stroke-linejoin="round"/>
<path d="M365.6,306.4 367.6,304.7 369.5,304.1 371,305.6 371.4,309 369.9,311.3 369.5,315 369.4,321 367.3,321 366.9,315 366.1,310.5 365.4,308.3Z" fill="#ec7014" stroke="#ec7014" stroke-width="1.2" stroke-linejoin="round"/>
<path d="M371.2,305.6 372.9,301.2 380,300.3 387.1,302.1 393.2,300.3 396.2,302.9 395,307.3 392.3,310.9 389.7,315.3 386.2,318.8 382.6,323.2 378.2,324.1 373.8,323.2 370.3,321.5 370.3,312.6Z" fill="#fe9929" stroke="#fe9929" stroke-width="1.2" stroke-linejoin="round"/>
<path d="M396.2,302.9 397.6,305.6 395.9,309.1 398.5,314.4 397.6,317.9 399.4,323.2 399.4,329.4 395,329.9 389.7,329.4 384.4,329.4 381.8,323.2 386.2,318.8 389.7,315.3 392.3,310.9 395,307.3Z" fill="#ec7014" stroke="#ec7014" stroke-width="1.2" stroke-linejoin="round"/>
<path d="M383,332 389,330 395,330 395,335 399,336 398,342 395,346 391,348 388,347 383,339Z" fill="#fe9929" stroke="#fe9929" stroke-width="1.2" stroke-linejoin="round"/>
<path d="M395,330 399,329 405,327 404,334 402,340 399,345 395,348 391,349.6 389,347 391,348 395,346 398,342 399,336 395,335Z" fill="#fe9929" stroke="#fe9929" stroke-width="1.2" stroke-linejoin="round"/>
<path d="M446.7,298.7 452,297.3 456,298.7 458.7,303.3 460,306 462.7,308.7 466.7,311.3 472.7,315.3 469.3,320 465.3,323.3 460,325.3 454.7,326 448.7,324 444,321.3 440,315.3 442,310 444,304.7Z" fill="#fee391" stroke="#fee391" stroke-width="1.2" stroke-linejoin="round"/>
<path d="M444,321.7 448.7,324 454.7,326 459.3,325.3 458.7,328.7 458,334 461.3,339.3 456,347.3 453.3,348 448.7,344 442,338 443.3,331.3 442,326Z" fill="#ec7014" stroke="#ec7014" stroke-width="1.2" stroke-linejoin="round"/>
<path d="M434,327.3 442,325.7 443.3,331.3 442,338 431.3,339.1 432.7,332.7Z" fill="#fec44f" stroke="#fec44f" stroke-width="1.2" stroke-linejoin="round"/>
<path d="M431,340 442,339 444,342 454,348 459,353 458,359 459,365 450,366 444,365 439,362 438,358 433,356 431,350Z" fill="#fe9929" stroke="#fe9929" stroke-width="1.2" stroke-linejoin="round"/>
<path d="M414,370 418,366 427,366 429,359 436,358 439,362 438,370 434,372.4 429,376 425,379 421,381 415,380Z" fill="#fec44f" stroke="#fec44f" stroke-width="1.2" stroke-linejoin="round"/>
<path d="M422,382 425,379 429,376.4 435,378 438,382 437,389 434,394 429,393 425,389Z" fill="#fe9929" stroke="#fe9929" stroke-width="1.2" stroke-linejoin="round"/>
<path d="M397,410 407,408 408,402 416,403 420,400 426,395 430,393 434,394.4 436,400 439,410 416,430 402,430 396,414Z" fill="#fe9929" stroke="#fe9929" stroke-width="1.2" stroke-linejoin="round"/>
<path d="M423,413 426,410.4 428.4,412.4 427,415.6 424,416Z" fill="url(#hatch)" stroke="url(#hatch)" stroke-width="1.2" stroke-linejoin="round"/>
<path d="M431.2,404 433.6,403.2 434.4,405.6 432.4,406.8Z" fill="url(#hatch)" stroke="url(#hatch)" stroke-width="1.2" stroke-linejoin="round"/>
<path d="M323,300.2 327.5,300.1 331.3,299.9 331.3,300.8 327.5,301.1 323,301.2Z" fill="none" stroke="#cdcdcd" stroke-width=".7" stroke-linejoin="round"/>
<path d="M423,413 426,410.4 428.4,412.4 427,415.6 424,416Z" fill="none" stroke="#cdcdcd" stroke-width=".7" stroke-linejoin="round"/>
<path d="M431.2,404 433.6,403.2 434.4,405.6 432.4,406.8Z" fill="none" stroke="#cdcdcd" stroke-width=".7" stroke-linejoin="round"/>
<path d="M324.9,280.4 333.2,279.6 333.2,274.7 336.5,273 337.3,267.2 343.9,267.2 343.9,263.9" fill="none" stroke="#cdcdcd" stroke-width=".7" stroke-linejoin="round"/>
<path d="M343.9,267.2 349.7,271" fill="none" stroke="#cdcdcd" stroke-width=".7" stroke-linejoin="round"/>
<path d="M372.7,286.2 380.1,281.2 390.8,274.7 388.4,269.7 385.9,264.8 385.1,256.5 387.5,251.6 389.2,249.6" fill="none" stroke="#cdcdcd" stroke-width=".7" stroke-linejoin="round"/>
<path d="M390.8,274.7 397.4,276.3 398.3,286.2 395.8,294.4 395,301" fill="none" stroke="#cdcdcd" stroke-width=".7" stroke-linejoin="round"/>
<path d="M397.4,276.3 417.2,284.5 418.8,284.5 418.8,277.9" fill="none" stroke="#cdcdcd" stroke-width=".7" stroke-linejoin="round"/>
<path d="M417.2,284.5 415.6,294.4 413.9,302.7 418,308.4" fill="none" stroke="#cdcdcd" stroke-width=".7" stroke-linejoin="round"/>
<path d="M399.1,310.9 405.7,307.6 413.9,305.1 418,308.4 425.4,306.8 433.7,308.4 441.9,304.3 445.2,301" fill="none" stroke="#cdcdcd" stroke-width=".7" stroke-linejoin="round"/>
<path d="M418,308.4 420.5,314.2 425.4,319.1 432,322.4 438.6,322.4 443.6,320.8" fill="none" stroke="#cdcdcd" stroke-width=".7" stroke-linejoin="round"/>
<path d="M400.7,320.8 405.7,317.5 412.3,315.8 418.8,318.3 425.4,319.1" fill="none" stroke="#cdcdcd" stroke-width=".7" stroke-linejoin="round"/>
<path d="M447.7,287 445.2,292.8 446,297.7" fill="none" stroke="#cdcdcd" stroke-width=".7" stroke-linejoin="round"/>
<path d="M391,351 398,352 404,355 410,354 413,360 414,366 418,367 415,372 416,380" fill="none" stroke="#cdcdcd" stroke-width=".7" stroke-linejoin="round"/>
<path d="M390,381 400,381.6 411,382.4 417,381 422,384 425,389 428,393" fill="none" stroke="#cdcdcd" stroke-width=".7" stroke-linejoin="round"/>
<path d="M411,382.4 410,391 408,396 407,406" fill="none" stroke="#cdcdcd" stroke-width=".7" stroke-linejoin="round"/>
<path d="M440,363 444,366 445,372 442,378 440,374 439,368" fill="none" stroke="#cdcdcd" stroke-width=".7" stroke-linejoin="round"/>
<path d="M432,339 431,346 433,352 431,358 430,363" fill="none" stroke="#cdcdcd" stroke-width=".7" stroke-linejoin="round"/>
<path d="M361.2,243.4 359.9,251.6 358.9,257.4 355.4,260.7 348.8,261.5 344.7,262.5 344.7,264.1 334.5,263.8 329.9,266.4 329.9,254.9 349.7,241.7Z" fill="none" stroke="#5e5048" stroke-opacity=".65" stroke-width=".5" stroke-linejoin="round"/>
<path d="M379.6,237.6 386.2,236.8 389.7,240.3 387.4,244.7 388.8,249.1 386.2,252.6 384.4,256.2 382.6,252.6 380.9,249.1 379.6,244.7Z" fill="none" stroke="#5e5048" stroke-opacity=".65" stroke-width=".5" stroke-linejoin="round"/>
<path d="M417.9,250.9 418.8,278.2 445.3,278.2 448.8,275.6 442.5,262.5 441,259.4 439.8,254.4 439.8,251.9Z" fill="none" stroke="#5e5048" stroke-opacity=".65" stroke-width=".5" stroke-linejoin="round"/>
<path d="M349.4,270.7 350,271 372.7,286.2 372.9,289.5 371.8,293.3 368.8,294.8 364.3,296.3 360.9,296.6 357.5,298.9 354.9,301.1 353,303 351.1,305.6 350,307.5 346.6,308.3 344,309 342.9,306.4 341.8,303.8 339.5,304.5 336.5,303.8 336.1,300 336.1,297 350.8,295.1 350.4,285 349.9,277.5Z" fill="none" stroke="#5e5048" stroke-opacity=".65" stroke-width=".5" stroke-linejoin="round"/>
<path d="M321.5,297.8 324.9,294.8 326.8,293.3 329.4,292.5 331.3,293.6 333.1,295.5 334.6,297.8 335.8,300 336.5,302.6 334.3,303 331.3,302.6 328.3,303 325.3,303 321.5,303Z" fill="none" stroke="#5e5048" stroke-opacity=".65" stroke-width=".5" stroke-linejoin="round"/>
<path d="M329,306.8 331.3,304.9 333.5,303.8 336.5,303.8 339.5,304.5 341.8,303.8 343.3,306.4 344,309.8 343.6,313.5 342.5,316.5 341.4,315 341,312.4 339.5,310.9 337.6,310.1 335.8,309.8 334.3,310.9 332.8,312.8 331.3,310.5 329.8,308.6 327.5,307.5Z" fill="none" stroke="#5e5048" stroke-opacity=".65" stroke-width=".5" stroke-linejoin="round"/>
<path d="M344,309.8 346.6,308.9 350,309 351.9,309.8 353.4,310.5 355.6,310.9 356,315 355.9,318.8 355.6,324 345.5,324.8 345.1,321 344,318 343.9,313.5Z" fill="none" stroke="#5e5048" stroke-opacity=".65" stroke-width=".5" stroke-linejoin="round"/>
<path d="M351.1,305.6 353,303 354.9,301.1 357.5,298.9 360.9,296.6 363.1,298.1 365,300.8 366.9,302.6 367.6,304.5 365.4,306.2 362.4,306.6 359,306.9 356,307.4 355.4,309.2 353.4,310.1 351.9,308.6 350,307.5Z" fill="none" stroke="#5e5048" stroke-opacity=".65" stroke-width=".5" stroke-linejoin="round"/>
<path d="M356,307.5 359,306.9 362.4,306.8 364.3,307.1 363.9,310.5 364.3,315 364.6,318.8 364.6,324 355.9,324 355.9,318.8 356.2,315 355.9,310.9Z" fill="none" stroke="#5e5048" stroke-opacity=".65" stroke-width=".5" stroke-linejoin="round"/>
<path d="M365.6,306.4 367.6,304.7 369.5,304.1 371,305.6 371.4,309 369.9,311.3 369.5,315 369.4,321 367.3,321 366.9,315 366.1,310.5 365.4,308.3Z" fill="none" stroke="#5e5048" stroke-opacity=".65" stroke-width=".5" stroke-linejoin="round"/>
<path d="M371.2,305.6 372.9,301.2 380,300.3 387.1,302.1 393.2,300.3 396.2,302.9 395,307.3 392.3,310.9 389.7,315.3 386.2,318.8 382.6,323.2 378.2,324.1 373.8,323.2 370.3,321.5 370.3,312.6Z" fill="none" stroke="#5e5048" stroke-opacity=".65" stroke-width=".5" stroke-linejoin="round"/>
<path d="M396.2,302.9 397.6,305.6 395.9,309.1 398.5,314.4 397.6,317.9 399.4,323.2 399.4,329.4 395,329.9 389.7,329.4 384.4,329.4 381.8,323.2 386.2,318.8 389.7,315.3 392.3,310.9 395,307.3Z" fill="none" stroke="#5e5048" stroke-opacity=".65" stroke-width=".5" stroke-linejoin="round"/>
<path d="M383,332 389,330 395,330 395,335 399,336 398,342 395,346 391,348 388,347 383,339Z" fill="none" stroke="#5e5048" stroke-opacity=".65" stroke-width=".5" stroke-linejoin="round"/>
<path d="M395,330 399,329 405,327 404,334 402,340 399,345 395,348 391,349.6 389,347 391,348 395,346 398,342 399,336 395,335Z" fill="none" stroke="#5e5048" stroke-opacity=".65" stroke-width=".5" stroke-linejoin="round"/>
<path d="M446.7,298.7 452,297.3 456,298.7 458.7,303.3 460,306 462.7,308.7 466.7,311.3 472.7,315.3 469.3,320 465.3,323.3 460,325.3 454.7,326 448.7,324 444,321.3 440,315.3 442,310 444,304.7Z" fill="none" stroke="#5e5048" stroke-opacity=".65" stroke-width=".5" stroke-linejoin="round"/>
<path d="M444,321.7 448.7,324 454.7,326 459.3,325.3 458.7,328.7 458,334 461.3,339.3 456,347.3 453.3,348 448.7,344 442,338 443.3,331.3 442,326Z" fill="none" stroke="#5e5048" stroke-opacity=".65" stroke-width=".5" stroke-linejoin="round"/>
<path d="M434,327.3 442,325.7 443.3,331.3 442,338 431.3,339.1 432.7,332.7Z" fill="none" stroke="#5e5048" stroke-opacity=".65" stroke-width=".5" stroke-linejoin="round"/>
<path d="M431,340 442,339 444,342 454,348 459,353 458,359 459,365 450,366 444,365 439,362 438,358 433,356 431,350Z" fill="none" stroke="#5e5048" stroke-opacity=".65" stroke-width=".5" stroke-linejoin="round"/>
<path d="M414,370 418,366 427,366 429,359 436,358 439,362 438,370 434,372.4 429,376 425,379 421,381 415,380Z" fill="none" stroke="#5e5048" stroke-opacity=".65" stroke-width=".5" stroke-linejoin="round"/>
<path d="M422,382 425,379 429,376.4 435,378 438,382 437,389 434,394 429,393 425,389Z" fill="none" stroke="#5e5048" stroke-opacity=".65" stroke-width=".5" stroke-linejoin="round"/>
<path d="M397,410 407,408 408,402 416,403 420,400 426,395 430,393 434,394.4 436,400 439,410 416,430 402,430 396,414Z" fill="none" stroke="#5e5048" stroke-opacity=".65" stroke-width=".5" stroke-linejoin="round"/>
</g>
<path d="M359.7,243.5 365.9,242.1 372.9,240.3 380,238.9 385.3,238.2 387.9,240.3 386.7,244.7 387.9,249.1 390.6,250.9 397.6,252.6 404.7,254.4 408.2,251.8 412.6,250.5 417.9,252.6 424.1,254.1 431.2,253.5 434.4,254.4 437.5,254.8 439.8,254.4 441,259.4 440.5,261.2 439.5,263.1 437.5,261.2 435.6,258.8 434.4,257.8 435.6,260.6 437.5,263.8 440,268.1 442.5,272.5 445,276.9 447.3,283.3 450,288.7 452.7,294 455.3,297.3 458,300 460,302.7 461.3,304.7 460,306 464,305.3 469.3,305.3 474.7,304.9 479.3,304.4 480.7,305.3 479.3,308.7 476.7,313.3 473.3,318 470,322 466,327.3 462,332 459.3,335.3 458,339.3 456,344 453.3,348.7 454,353 454.4,358 456,363 456.4,367 455,372 450,376 444,380 441,384 443,389 442,394 438,397 435.6,400 436.4,405 435,409 431,415 427,419 422,422 416,424 410,425.6 405,426.6 403,424 402,418 400,412 399,408 397,402 395,395 392,388 390,382 389,378 391,372 393,366 395,360 393,354 391,349 389,345 386,341 384,336 385,332 384.4,326.8 383.5,323.2 380.9,325 377.3,324.1 373.8,321.5 370.3,319.7 365,320.6 360.6,322.3 356.2,322.9 350.9,323.2 344.7,323.2 340.3,320.6 336.8,317.1 333.2,313.5 329.7,309.1 327.9,305.6 325.3,302.1 323.2,297.6 324.4,294.1 326.2,289.7 325.3,285.3 324.4,280 326.2,274.7 328.8,270.3 332.4,265.9 335,263.2 338.5,260.6 342.1,257.1 345.6,252.6 349.1,248.2 355.3,244.7Z" fill="none" stroke="#cdcdcd" stroke-width=".7" stroke-linejoin="round"/>
<path d="M462,396 461,390 463,384 465,380 469,377 472,373 475,368 477,369 477.6,375 476,382 474,389 471,397 468,402 464,402.4Z" fill="url(#hatch)" stroke="#cdcdcd" stroke-width=".7" stroke-linejoin="round"/>
<g clip-path="url(#cp-eurasia)">
<path d="M351,242 349.5,240.5 348,239 345,239.5 343.5,237 344,232 343.5,228 344.5,225.5 344,223.5 347,222.2 352,222.8 357,223.5 360,222.5 360.5,219 360,215 358,213 355.5,211.5 354,210 356.5,209 359.5,208.5 359,206.5 362,206 365,204.5 368,203.5 370,202.8 372,201 372,198.5 375,197 376.5,197.5 379,196 380,194 379,191 379,188.5 381,187.2 382.8,188 383,190.5 382.5,193 383,195 387,195 390.5,196.5 395,195 400,194.5 403,193.5 404,192 403.5,189.5 404.5,187.5 407,187 408,188.5 409.5,187 407.5,185 406.5,183.5 409,182.8 412,182.5 415,183 416,182 414,180.5 411,181.2 408,181.5 405,181 402.5,180 401.5,177 401.5,174.5 403.5,172 406,170 407,168.5 405,167.5 403.5,166.8 402,167.8 400.5,168.8 399.5,170.5 397,173 395,175 394.5,177.5 395.5,180 397,181.5 396,184 394.5,185 394,188 392.5,190.5 390,192.2 388.5,192.5 387,189 386,186 385,183.5 383,183.5 380,184.8 376,185 373.5,184 372.5,181 372.5,177 374.5,175 378,173 381,170.5 384,167 386.5,164 389.5,161.5 394,159 398,157.5 402.5,156.2 408,155.8 412,156.5 414,158.2 417,159 421,159.5 425,160 429,161.2 433,163 434,165 432,166 429,165.5 426,165 423,165.5 420.5,166 423,167.5 425,169.5 427,171 429,169.5 431,168.5 434,168 435,166.5 437,165 439.5,164.5 438.5,162.5 436.5,161.5 439,161.2 442,162 442.5,164 445,164.5 448,163 450,162 452,162 458,160.6 464,161 470,158 473,154 477,152 480,155 482,160 486,164 489,166 488,161 485,157 483,153 487,155 493,150 500,148 508,145 515,144 520,143 526,145 532,146 538,150 544,151 552,150 560,151 568,153 576,156 584,155 592,154 600,155 610,154 610,155 620,156.6 630,159 640,159.4 648,161 645,159 650,158 658,159.4 666,161 672,165 678,169.4 686,175 679,176 676,180 670,181 665,182 667,185 672,189 676,194 675,203 671,198 667,194 662,190 659,187 660,182 659,176 656,179 650,178 648,182 640,183 632,183.4 627,185 624,194 631,195 637,196.6 641,200 644,205 646,211 645,219 643,224 638,225 638,225 639,230 640,235 643.6,240 642.4,245 638,245.4 635.6,241 634.4,236.6 631.6,235 629,233.4 627,232 623,231 620,230 616,234 619,236.6 623,236 627,239 623,243 625,248 629,252 633,257 634.4,263 632.4,269 629,274 623,277 617,279 613.8,279.3 611.4,280.4 608.5,281.6 606.2,280.4 603.8,283.3 602.7,286.3 605,289.2 608.5,292.7 611.4,296.2 613.4,300.3 613.2,304.9 610.3,308.4 606.8,311.3 604.4,313.1 603.8,309.6 603.8,308.4 600.3,307.3 598.6,304.3 598,300.3 596.3,302.6 593.3,301.4 591.6,303.2 591,306.7 591.6,310.2 592.5,313.3 595,317.5 597.5,319.2 600,322.5 602.6,327.4 603.5,331.4 601.7,333.2 599.2,330.8 595.8,325.8 594.2,320.8 590.9,316.7 589.1,311.7 588.7,306.7 587.5,303.8 586.3,299.7 584.6,295 581.1,293.3 578.2,293.8 576.4,289.2 574.1,285.1 572.3,281 571.8,276.3 571,278 568,279 565,277.4 561,279 556,285 551,291 547,296 546,304 545,311 542,315 539,310 536,303 533,295 530,287 528,281 523,282 519,278 519,276 517.5,273.8 515.6,273 514.1,271.5 512.3,270 509.3,269.3 505.5,269.3 502.5,269.6 500.6,270 498,269.6 495,268.9 492,268.1 490.5,266.3 487.5,265.9 483.8,266.3 482.5,264.4 479.4,261.9 475.6,258.8 472.5,257.2 470.6,257.8 470,258.8 470.6,261.9 473.1,265 475.6,268.1 476,269.4 476.9,267.5 478.1,268.1 477.5,270.6 479.4,272.5 480,274.4 483.8,273.1 486.9,270.6 488.8,268.8 489.8,268.8 491.2,271.2 493.8,273.1 496.9,276.2 498.1,280 496.3,281.7 492.9,284.7 489.4,287.7 485.9,290.3 483.3,292.1 482.5,293.4 479,295.5 474.7,298.1 470.3,299.4 466,300.7 461.2,302.5 461.2,300.7 460.8,296.4 460.4,292.5 458.6,289.5 456.5,286 453.9,282.5 451.7,279.1 450.8,275.6 448.7,272.1 446.1,267.8 443.5,263.5 441.3,260 441,259.4 439.8,254.4 440.2,251.9 441,248.8 441.5,245.6 442.2,242.5 442,241 439,240.5 435,240.5 431,240 427,240.5 423,240 424,240.3 422.3,239 421.3,237 420.3,235 419.7,233 420.3,231 421.3,230 423.7,229.3 423.3,228.3 421.3,228.5 419.3,229.3 417,229.7 415,229.3 413.7,230 414.7,231.7 413,231.3 412.7,233 414.3,235.7 414.7,238.3 413.3,241 411.3,240.7 409.7,238.3 408,235.7 406.7,233.3 406,231.7 404.7,230.7 404,228 403.3,225.3 402.2,224.3 401,225 398.3,222.9 395.7,220.9 394.3,219.3 392,218.7 391.3,217.3 391,216 389.5,218 390,220.5 393,223.5 396.5,227 400,229.5 402,231.5 400,232 399,234 399.5,236 397.5,236.5 397.5,234 396,231 393,229 390,227 387,224.5 384.5,222 382,220 379.5,221 379,221.5 377,223 374,222.5 371,223.5 369,225.2 368.5,227 366,229 364,231.5 362.5,235 360.5,238 357,239.5 353,241Z" fill="#fe9929"/>
<path d="M537.5,206.7 540.8,207.5 547.5,214.2 552.5,217.5 558.3,220.8 565,224.2 571.7,225 580,225.8 586.7,225.8 593.3,222.5 595.8,220 598.3,216.7 602.5,215.8 607.5,213.3 605,211.7 598.3,210 596.7,206.7 598.3,206.7 600.8,202.5 600,199.2 603.3,197.5 610,198.3 616.7,201.7 622.5,205.8 629.2,210 635,210.8 637.5,215 638.3,220 636.7,224.2 633.3,227.5 630,230 628.3,231.7 636.7,240 640,265 620,286.7 610,288.3 606.7,280.8 604.2,278.3 600,275.8 597.5,276.7 593.3,278.3 590,275.8 585.8,272.5 584.2,268.3 582.5,264.2 579.2,263.3 576.7,260 571.7,261.7 568.3,265 567.5,262.5 561.7,262.5 560,263.3 553.3,261.7 547.5,259.2 543.3,257.5 540.8,255 537.5,250.8 535.8,246.7 532.5,244.2 530,240 525.8,236.7 522.5,231.7 525,227.5 529.2,225.8 531.7,222.5 530,217.5 535,215 533.3,211.7Z" fill="#fec44f" stroke="#fec44f" stroke-width="1.2" stroke-linejoin="round"/>
<path d="M537.5,206.7 540.8,207.5 548.3,204.2 557.5,200.8 563.3,203.3 571.7,205 580,204.2 588.3,206.7 596.7,206.7 598.3,210 605,211.7 607.5,213.3 602.5,215.8 598.3,216.7 595.8,220 593.3,222.5 586.7,225.8 580,225.8 571.7,225 565,224.2 558.3,220.8 552.5,217.5 547.5,214.2 540.8,207.5Z" fill="#fec44f" stroke="#fec44f" stroke-width="1.2" stroke-linejoin="round"/>
<path d="M457.1,206.9 458.9,203.9 463,202.2 468.9,201.6 474.9,202.8 480.8,203.3 484.3,202.8 483.7,199.2 481.4,196.2 487.9,194.5 495,192.7 498.5,193.3 502.1,196.2 506.8,196.8 511.5,194.5 515.1,198 521,201.6 526.9,202.8 532.8,204.5 538.2,207.5 537,210.4 532.8,213.4 531.7,216.4 529.3,219.3 531.7,223.5 526.9,224.1 521,223.5 515.1,224.6 511.5,225.8 510.4,228.8 508,230 505.6,228.2 502.1,224.6 498.5,222.3 493.8,222.9 489.1,221.1 484.3,218.7 480.2,217.5 478.4,219.9 479.6,224.1 480.2,227 477.8,225.8 473.7,224.1 469.5,221.1 471.9,217.5 471.3,214.6 467.8,214 465.4,215.8 462.4,214.6 459.5,211Z" fill="#ec7014" stroke="#ec7014" stroke-width="1.2" stroke-linejoin="round"/>
<path d="M478.4,219.3 480.2,217.5 484.3,218.7 489.1,221.1 493.8,222.9 498.5,222.3 502.1,224.6 505.6,228.2 508,230 510.4,228.8 511.5,231.2 509.2,232.3 508,234.7 509.2,237.7 508,238.8 505,237.1 502.1,234.1 498.5,231.2 495,228.8 491.4,227 487.9,225.2 484.3,225.8 481.4,227.6 479.6,224.1Z" fill="#cc4c02" stroke="#cc4c02" stroke-width="1.2" stroke-linejoin="round"/>
<path d="M511.5,225.8 515.1,224.6 521,223.5 526.9,224.1 531.7,223.5 530.5,225.8 525.7,228.2 521,230 517.5,231.7 514.5,232.3 511.5,231.2 514.5,230 517.5,229.4 516.3,228.2 512.7,228.8 510.4,228.8Z" fill="#fe9929" stroke="#fe9929" stroke-width="1.2" stroke-linejoin="round"/>
<path d="M511.5,229.4 514.5,228.6 517.2,229.4 514.5,230.9 512.1,230.6Z" fill="#cc4c02" stroke="#cc4c02" stroke-width="1.2" stroke-linejoin="round"/>
<path d="M475.4,232.3 477.8,225.8 480.2,227 481.4,227.6 484.3,225.8 487.9,225.2 491.4,227 495,228.8 498.5,231.2 502.1,234.1 505,237.1 508,238.8 509.2,237.7 508,234.7 509.2,232.3 511.5,231.2 514.5,232.3 517.5,231.7 521,230 523.4,233.5 526.9,238.3 525.7,240.6 524,245.9 531,243.8 528,244.5 525,245.6 524.3,247.5 526.5,252 526.9,255 526.1,258.8 524.3,261.8 521.6,263.3 519,265.5 520.1,268.9 521.6,270.8 519,271.5 517.5,273.8 516,276 502.5,273 500.6,270 504.4,265.6 502.5,263.8 500.6,260.6 499.4,256.2 497.5,251.9 496.9,247.5 495,242.5 491.2,238.8 486.2,236.9 482.5,236.9 477.5,238.1 473.1,239.4Z" fill="url(#hatch)" stroke="url(#hatch)" stroke-width="1.2" stroke-linejoin="round"/>
<path d="M459.4,233.8 462.5,235 465.6,236.9 469.4,238.8 473.1,239.4 477.5,238.1 482.5,236.9 486.2,236.9 491.2,238.8 495,242.5 496.9,247.5 497.5,251.9 499.4,256.2 500.6,260.6 502.5,263.8 504.4,265.6 500.6,270 500,272.5 492.5,271.2 488.1,268.8 485,267.5 482.5,265.6 479.4,263.1 475.6,260 472.5,258.1 470.6,258.1 469.4,256.2 468.1,253.1 465.6,249.4 463.1,245 461.2,241.2 459.4,238.1Z" fill="#fe9929" stroke="#fe9929" stroke-width="1.2" stroke-linejoin="round"/>
<path d="M453.1,239.4 456.9,238.8 459.4,238.1 461.2,241.2 463.1,245 465.6,249.4 468.1,253.1 469.4,256.2 467.5,258.1 465.6,259.4 461.2,258.8 456.9,256.2 452.5,253.1 448.8,250.6 450.6,247.5 452.5,243.8Z" fill="#fec44f" stroke="#fec44f" stroke-width="1.2" stroke-linejoin="round"/>
<path d="M467.5,258.1 469.4,256.2 470.6,258.1 470,260.2 468.1,260.6Z" fill="#fec44f" stroke="#fec44f" stroke-width="1.2" stroke-linejoin="round"/>
<path d="M448.8,253.1 452.5,253.1 456.9,256.2 461.2,258.8 465.6,259.4 468.1,260.6 470,262.5 473.1,265 475.6,268.1 477.5,270.6 479.4,273.1 480,275.6 480.7,275.6 483.3,276 487.2,277.3 487.7,279.9 487.2,283.4 481.6,286 474.7,287.7 470.3,290.8 460.4,292.1 457.3,288.6 448.7,273.9 440,260 437.5,258.8 441.2,260.6 442.5,258.1 446.2,256.2 448.8,255Z" fill="#fff7bc" stroke="#fff7bc" stroke-width="1.2" stroke-linejoin="round"/>
<path d="M479.9,274.3 482.5,273.9 485.1,272.1 487.2,269.5 489,267.8 490.3,270.4 488.5,273 487.7,276 487.2,277.3 483.3,276 480.7,275.6Z" fill="#fee391" stroke="#fee391" stroke-width="1.2" stroke-linejoin="round"/>
<path d="M487.2,277.3 487.7,276 488.5,273 490.3,270.4 500.7,275.6 500.7,282.5 483.3,294.7 483.3,292.1 481.6,286 487.2,283.4 487.7,279.9Z" fill="url(#hatch)" stroke="url(#hatch)" stroke-width="1.2" stroke-linejoin="round"/>
<path d="M460.4,292.1 470.3,290.8 474.7,287.7 481.6,286 483.3,292.1 483.3,294.7 459.9,305.1Z" fill="url(#hatch)" stroke="url(#hatch)" stroke-width="1.2" stroke-linejoin="round"/>
<path d="M475.6,268.1 476.9,267.2 478.1,268.1 477.5,271 476,270Z" fill="url(#hatch)" stroke="url(#hatch)" stroke-width="1.2" stroke-linejoin="round"/>
<path d="M441.2,260.6 442.5,258.1 446.2,256.2 448.8,255 448.8,253.1 446.9,250 443.8,250.6 441.9,251.9 441.5,255Z" fill="#fee391" stroke="#fee391" stroke-width="1.2" stroke-linejoin="round"/>
<path d="M438.8,254.4 440.2,251.9 441,249.4 441.9,250 441.9,251.9 441.5,255 441,259.4Z" fill="#fec44f" stroke="#fec44f" stroke-width="1.2" stroke-linejoin="round"/>
<path d="M440,248.8 441.5,246 442.5,246.2 442,249.4Z" fill="url(#hatch)" stroke="url(#hatch)" stroke-width="1.2" stroke-linejoin="round"/>
<path d="M441.2,242.5 443.1,240 447.5,239.8 453.1,239.4 452.5,243.8 450.6,247.5 448.8,250.6 446.9,250 443.8,250.6 442,249.4 442.5,246.2 441.5,245.6Z" fill="url(#hatch)" stroke="url(#hatch)" stroke-width="1.2" stroke-linejoin="round"/>
<path d="M419.5,231 420,229 420,227 423.5,227 425,228 429,227.5 432,226.5 435,227 439,228 443,229 447,229 451,228 455,228.5 458,229 459,232 459.5,235 460,238 455,239.5 451,239.8 447,240.2 442,241 439,242 425,242 419,238Z" fill="#fe9929" stroke="#fe9929" stroke-width="1.2" stroke-linejoin="round"/>
<path d="M447.1,222.3 450,223.2 453.3,224.2 456.7,225.4 460,226.7 460.7,227.9 458.3,228.3 455.4,228.1 452.5,227.3 450.8,226.5 449.6,225Z" fill="#ec7014" stroke="#ec7014" stroke-width="1.2" stroke-linejoin="round"/>
<path d="M457.5,228.2 460.5,228.2 461,226.8 463,226.5 467,229 469,232 467,235 465,234 463,233 461,234 459.5,235 459,232 458,229Z" fill="url(#hatch)" stroke="url(#hatch)" stroke-width="1.2" stroke-linejoin="round"/>
<path d="M531,244 536,249 535,254 542,258 550,262 560,265 562,263 568,262 573,260 579,261 578,265 573,267 574,274 572,278 568,281 560,283 552,293 546,317 540,317 516,281 516,276 517.5,273.8 519,271.5 521.6,270.8 520.1,268.9 519,265.5 521.6,263.3 524.3,261.8 526.1,258.8 526.9,255 526.5,252 524.3,247.5 525,245.6 528,244.5 531,243.8Z" fill="#ec7014" stroke="#ec7014" stroke-width="1.2" stroke-linejoin="round"/>
<path d="M542,258 550,262 560,265 559.6,267.4 552,266 545,263 541,260Z" fill="#fec44f" stroke="#fec44f" stroke-width="1.2" stroke-linejoin="round"/>
<path d="M561,262.6 567.6,262 568,264.6 561.6,265Z" fill="url(#hatch)" stroke="url(#hatch)" stroke-width="1.2" stroke-linejoin="round"/>
<path d="M562,268 567,267.4 570,272 571,280 568,281 565,279.4 562.4,273Z" fill="#fff7bc" stroke="#fff7bc" stroke-width="1.2" stroke-linejoin="round"/>
<path d="M629,231 632,228 635,225.5 637.5,224.5 639,224 640.5,226.5 639,229 639,232 639.5,235 637.5,235.5 635,236.5 632.5,236.5 630.5,234Z" fill="url(#hatch)" stroke="url(#hatch)" stroke-width="1.2" stroke-linejoin="round"/>
<path d="M635,236.5 637.5,235.5 639.5,235 643,239 645,243.5 643,246 640,246.5 637.5,246 635.5,242.5 634.5,239.5Z" fill="#fe9929" stroke="#fe9929" stroke-width="1.2" stroke-linejoin="round"/>
<path d="M344.5,225.5 349,226.5 349.5,230 348.8,235 348,239 345,241 342,239 342,228Z" fill="#cc4c02" stroke="#cc4c02" stroke-width="1.2" stroke-linejoin="round"/>
<path d="M343,223.5 347,221.5 352,222 357,223.5 361.5,224 365,224.8 369,225.2 370,227 366,231 360.5,239.5 353,242.5 349,242.5 348,239 348.8,235 349.5,230 349,226.5 344.5,225.5Z" fill="#993404" stroke="#993404" stroke-width="1.2" stroke-linejoin="round"/>
<path d="M353,210 356.5,208.5 359.5,208 359,206 362,205.5 365,204 368,203.2 369.5,204.5 372.5,206 375.5,207 378.5,208.5 378,211 376.5,213 375.5,215 377,217 378,219.5 379.5,222 377,224 374,223.5 371,224.2 369,225.2 365,224.8 361.5,224 359,223 360,219 359.5,215Z" fill="#993404" stroke="#993404" stroke-width="1.2" stroke-linejoin="round"/>
<path d="M377.5,217 378,216 381,215.5 383,214 386,214.2 390,214.8 391.2,216 389.5,218 390,220.5 393,223.5 396.5,227 400,229.5 403,231.5 400,238 395,237 387,226 382,221 379.5,222 378,219.5Z" fill="#cc4c02" stroke="#cc4c02" stroke-width="1.2" stroke-linejoin="round"/>
<path d="M402.2,224 403.1,222.3 405,224.3 404.7,225.7 403.3,225.3 402,225Z" fill="url(#hatch)" stroke="url(#hatch)" stroke-width="1.2" stroke-linejoin="round"/>
<path d="M405.8,223.7 408,224 408.3,226 406.7,226.2 405.7,225Z" fill="#fec44f" stroke="#fec44f" stroke-width="1.2" stroke-linejoin="round"/>
<path d="M377.5,196.7 380.8,195 382.9,193.3 385,194.6 389.2,195 390.8,196.2 392.1,198.8 391.7,201.7 389.2,202.9 387.9,205 389.6,207.1 390,209.2 387.5,210 385,209.6 382.1,210 379.6,210.8 378.8,208.3 376.7,207.1 376.2,203.8 377.1,200.8Z" fill="#cc4c02" stroke="#cc4c02" stroke-width="1.2" stroke-linejoin="round"/>
<path d="M391.7,196.7 395,195 398.3,194 401.7,194.3 405.8,194.3 408.8,195.8 410,199.2 409.6,202.9 410.4,205 407.5,206.2 404.2,205.8 400.8,204.6 397.5,203.8 394.2,202.9 391.7,201.7 392.1,198.8 390.8,196.2Z" fill="#cc4c02" stroke="#cc4c02" stroke-width="1.2" stroke-linejoin="round"/>
<path d="M387.9,205 390.8,203.5 394.2,203.2 397.5,204 400,205.8 398.3,207.5 395.4,208.8 392.1,209.2 390,208.8 389.2,206.8Z" fill="#ec7014" stroke="#ec7014" stroke-width="1.2" stroke-linejoin="round"/>
<path d="M398.3,207.7 400,206 404.2,206 407.5,206.5 408.3,207.5 406.2,208.8 402.9,209.3 400,210 397.9,209.6Z" fill="#ec7014" stroke="#ec7014" stroke-width="1.2" stroke-linejoin="round"/>
<path d="M385,209.8 387.5,210.2 390,209.2 392.5,209.3 395.4,209 397.9,209.8 397.1,211.7 395.8,212.9 392.5,213.8 389.2,213.3 386.7,212.5 384.6,212.1 382.1,212.1 382.3,210.2Z" fill="#ec7014" stroke="#ec7014" stroke-width="1.2" stroke-linejoin="round"/>
<path d="M397.1,211.8 397.9,209.8 400,210.2 402.9,209.6 406.2,209 408.3,207.9 408.8,210 407.1,212.9 404.2,214.6 400.8,215.4 398.3,215 396.7,213.8Z" fill="#fe9929" stroke="#fe9929" stroke-width="1.2" stroke-linejoin="round"/>
<path d="M391.5,214.3 392.9,213.9 395.8,213.2 397.1,213.8 396.2,215.4 393.8,216 391.8,215.7Z" fill="#ec7014" stroke="#ec7014" stroke-width="1.2" stroke-linejoin="round"/>
<path d="M391.8,215.8 393.8,216.2 396.2,215.5 397.1,214 398.8,215.2 401.7,216.2 403.3,217.1 402.9,218.3 400,217.7 397.5,217.9 396,218.3 397.1,220.4 399.2,222.5 401.2,224.2 400.4,225.8 397.5,223.8 394.6,220.8 392.9,218.3 391.7,217.7Z" fill="#993404" stroke="#993404" stroke-width="1.2" stroke-linejoin="round"/>
<path d="M396,218.3 397.5,217.9 400,217.7 402.9,218.3 403.5,220.4 402.9,222.9 401.7,224.2 399.2,222.5 397.1,220.4Z" fill="#cc4c02" stroke="#cc4c02" stroke-width="1.2" stroke-linejoin="round"/>
<path d="M403.3,217.1 405,215.8 407.1,215 408.8,217.1 410,219.6 410.4,222.1 409.6,224.2 407.5,225 406.7,223.8 405,223.3 403.5,220.4 402.9,218.3Z" fill="url(#hatch)" stroke="url(#hatch)" stroke-width="1.2" stroke-linejoin="round"/>
<path d="M375.8,213.8 377.5,212.5 379.6,211.5 382.1,212.1 384.6,212.3 383.8,214.2 381.7,215 379.2,215.7 377.1,216 375.7,215.2Z" fill="#993404" stroke="#993404" stroke-width="1.2" stroke-linejoin="round"/>
<path d="M371.2,198.8 373.3,197.5 376.2,196.7 377.5,197.1 377.1,200.8 376.2,203.3 373.8,202.7 372.1,201.7Z" fill="#fe9929" stroke="#fe9929" stroke-width="1.2" stroke-linejoin="round"/>
<path d="M368.3,202.9 371.2,202.1 373.8,202.7 376.2,203.3 376.7,205.4 375.4,206.7 372.9,205.7 370,204.8Z" fill="#cc4c02" stroke="#cc4c02" stroke-width="1.2" stroke-linejoin="round"/>
<path d="M377.9,188.3 380.4,187.1 382.7,186.5 383.2,188.8 382.3,190.8 383.2,193.3 380.8,195 378.8,193.8 377.9,190.8Z" fill="#ec7014" stroke="#ec7014" stroke-width="1.2" stroke-linejoin="round"/>
<path d="M406.7,226.2 408.3,226 410.3,225 411.3,226.7 411,228.3 408.7,228.9 406.7,228.3Z" fill="#ec7014" stroke="#ec7014" stroke-width="1.2" stroke-linejoin="round"/>
<path d="M403.3,225.3 404.7,225.7 405.7,225 406.7,226.2 406.7,228.3 407,230.3 406,231.7 404.3,231.3 403,228Z" fill="#fe9929" stroke="#fe9929" stroke-width="1.2" stroke-linejoin="round"/>
<path d="M406,231.7 407,230.3 406.7,228.3 408.7,228.9 411,228.3 411.3,226.7 413.7,227.3 416.3,228 419,227.7 419.7,229.7 417,230.3 415,230 415.7,233 415.7,242.3 410.3,242.3 405.7,233.7Z" fill="#fe9929" stroke="#fe9929" stroke-width="1.2" stroke-linejoin="round"/>
<path d="M410.7,221.7 413,221.3 416.3,221.7 419.7,221 421.7,221.7 422.3,224 421,226.3 419,227.7 416.3,228 413.7,227.3 411.3,226.7 410.3,225 411,223.3Z" fill="#fe9929" stroke="#fe9929" stroke-width="1.2" stroke-linejoin="round"/>
<path d="M406.3,213.7 408.3,211.7 411.7,211 415,211.3 417.7,210.7 419.7,212.3 421.3,215 422.3,217.3 424.3,217.7 424.3,219.3 422.7,220 421.7,221.7 419.7,221 416.3,221.7 413,221.3 410.7,221.7 410,219.3 408.3,217 407,216Z" fill="#fe9929" stroke="#fe9929" stroke-width="1.2" stroke-linejoin="round"/>
<path d="M417.7,210.7 419.7,210 421.7,211.7 423.7,214.3 424.3,216.3 423.3,217 422.3,217.3 421.3,215 419.7,212.3Z" fill="#ec7014" stroke="#ec7014" stroke-width="1.2" stroke-linejoin="round"/>
<path d="M410,202 414,201.5 419,202 424,201.5 428,200.5 430,200 433,203 437,204.5 442,206 444,208 443.5,211 440.5,213.5 439,215 441,215 439,217.5 436,218 434.5,216 432.5,217 433.5,219.5 432,219 431,217 428,215.5 425,216 423.5,215 424,213 422.2,210.5 420.5,209 418.5,207.8 416,210 413,210.5 410,210 408.5,208.5 409.5,205Z" fill="#fec44f" stroke="#fec44f" stroke-width="1.2" stroke-linejoin="round"/>
<path d="M403.3,190.7 404,189.3 407,190 410.3,190.3 413,190.7 413.7,192.3 412.3,194 409.7,194.7 407,194.3 406.3,193.3 403.7,192.7Z" fill="url(#hatch)" stroke="url(#hatch)" stroke-width="1.2" stroke-linejoin="round"/>
<path d="M404,187.7 407,188 408,187 407,185 409.7,186 413,186.3 416,187 416.3,189 413.7,190.7 413,190.7 410.3,190.3 407,190 404,189.3Z" fill="#fe9929" stroke="#fe9929" stroke-width="1.2" stroke-linejoin="round"/>
<path d="M405.7,183.7 407.7,182.3 411.7,182.2 415.7,181.8 415.7,184 414.7,185.7 415,187 413,186.3 409.7,186 407,185Z" fill="#cc4c02" stroke="#cc4c02" stroke-width="1.2" stroke-linejoin="round"/>
<path d="M413.7,192.3 413.7,190.7 416.3,189 418.3,189.3 421,191 423.7,193 425,195.7 426.3,197.7 424.3,199 423.7,201.3 421,202 417,201.3 413.7,201.3 411,201.7 410,199.7 410.3,197 409.7,194.7 412.3,194Z" fill="url(#hatch)" stroke="url(#hatch)" stroke-width="1.2" stroke-linejoin="round"/>
<path d="M372.5,177 374.5,175 378,173 381,170.5 384,167 386.5,164 389.5,161.5 394,159 398,157.5 402.5,156.2 408,155.8 412,156.5 414,158.2 412,159.5 410.5,159 409,158.2 407,158.5 405,160.5 403.5,161.2 401,161.2 399,160.5 396.5,161.2 394,162.5 391,164 389,166.5 387.5,169.5 386,172.5 384.5,175 385,178 386,180.5 385,183.5 380,186 372,185Z" fill="#fe9929" stroke="#fe9929" stroke-width="1.2" stroke-linejoin="round"/>
<path d="M396.5,161.2 399,160.5 401,161.2 403.5,161.2 403,163.5 403.5,166.8 401.5,169.5 398.5,175 397.5,182 396,187 390,194 387,194 387,189 386,186 385,183.5 386,180.5 385,178 384.5,175 386,172.5 387.5,169.5 389,166.5 391,164 394,162.5Z" fill="#ec7014" stroke="#ec7014" stroke-width="1.2" stroke-linejoin="round"/>
<path d="M403.5,161.2 405,160.5 407,158.5 409,158.2 410.5,159 411,161.5 413,164 414.5,167 415.5,170 417,172.5 419.5,175 418,177 416,179 415,181.2 411,182 405,182 401.5,179 402,173 405,169.5 403.5,166.8 403,163.5Z" fill="#cc4c02" stroke="#cc4c02" stroke-width="1.2" stroke-linejoin="round"/>
<path d="M577,263.5 579.3,262.3 581.7,264.7 582.8,268.8 584.6,271.7 587.5,275.8 590.4,278.7 592.2,280.4 590.4,283.3 588.7,282.8 585.2,285.1 584.6,288.6 585.8,292.1 586.9,296.2 587.5,299.7 589.3,303.8 588.7,306.7 585.2,306.7 570,289.2 570,271.7 573.5,267Z" fill="#fe9929" stroke="#fe9929" stroke-width="1.2" stroke-linejoin="round"/>
<path d="M585.2,285.1 588.7,282.8 590.4,283.3 592.2,288.6 595.1,289.2 598.6,288 601.5,291.5 602.7,295 601.5,298.5 598,300.3 596.3,302.6 593.3,301.4 591.6,303.2 591,306.7 591.6,310.2 592.5,313.3 595,317.5 594.2,320.8 590.9,316.7 589.1,311.7 588.7,306.7 589.3,303.8 587.5,299.7 586.9,296.2 585.8,292.1 584.6,288.6Z" fill="#fe9929" stroke="#fe9929" stroke-width="1.2" stroke-linejoin="round"/>
<path d="M590.4,283.3 592.2,280.4 593.9,277.5 596.3,279.3 598.6,282.2 601.5,284.5 603.3,287.4 605,290.9 607.3,294.4 608.5,297.3 606.2,298.5 604.4,297.3 602.7,295 601.5,291.5 598.6,288 595.1,289.2 592.2,288.6Z" fill="#cc4c02" stroke="#cc4c02" stroke-width="1.2" stroke-linejoin="round"/>
<path d="M593.9,277.5 596.8,275.8 600.9,275.2 604.4,277.5 608.5,279.8 608.5,283.3 616.7,298.5 615.5,309 603.8,316 603.8,309.6 607.3,306.7 609.1,303.8 608.5,300.3 608.5,297.3 607.3,294.4 605,290.9 603.3,287.4 601.5,284.5 598.6,282.2 596.3,279.3Z" fill="#fe9929" stroke="#fe9929" stroke-width="1.2" stroke-linejoin="round"/>
<path d="M598,300.3 601.5,298.5 604.4,297.3 606.2,298.5 608.5,297.3 609.1,303.8 607.3,306.7 603.8,309 599.8,308.4 598,304.3Z" fill="url(#hatch)" stroke="url(#hatch)" stroke-width="1.2" stroke-linejoin="round"/>
<path d="M594.2,320.8 595,317.5 597.5,319.2 600,322.5 602.6,327.4 604.4,332.3 600.3,334.7 595.8,325.8Z" fill="#fee391" stroke="#fee391" stroke-width="1.2" stroke-linejoin="round"/>
<path d="M431.2,216.7 432.9,219.8 434.8,220.4 436.5,219.2 437.3,217.1 435.4,215.7 433.3,216Z" fill="#fec44f" stroke="#fec44f" stroke-width="1.2" stroke-linejoin="round"/>
<path d="M475.4,232.3 477.8,225.8 480.2,227 481.4,227.6 484.3,225.8 487.9,225.2 491.4,227 495,228.8 498.5,231.2 502.1,234.1 505,237.1 508,238.8 509.2,237.7 508,234.7 509.2,232.3 511.5,231.2 514.5,232.3 517.5,231.7 521,230 523.4,233.5 526.9,238.3 525.7,240.6 524,245.9 531,243.8 528,244.5 525,245.6 524.3,247.5 526.5,252 526.9,255 526.1,258.8 524.3,261.8 521.6,263.3 519,265.5 520.1,268.9 521.6,270.8 519,271.5 517.5,273.8 516,276 502.5,273 500.6,270 504.4,265.6 502.5,263.8 500.6,260.6 499.4,256.2 497.5,251.9 496.9,247.5 495,242.5 491.2,238.8 486.2,236.9 482.5,236.9 477.5,238.1 473.1,239.4Z" fill="none" stroke="#cdcdcd" stroke-width=".7" stroke-linejoin="round"/>
<path d="M487.2,277.3 487.7,276 488.5,273 490.3,270.4 500.7,275.6 500.7,282.5 483.3,294.7 483.3,292.1 481.6,286 487.2,283.4 487.7,279.9Z" fill="none" stroke="#cdcdcd" stroke-width=".7" stroke-linejoin="round"/>
<path d="M460.4,292.1 470.3,290.8 474.7,287.7 481.6,286 483.3,292.1 483.3,294.7 459.9,305.1Z" fill="none" stroke="#cdcdcd" stroke-width=".7" stroke-linejoin="round"/>
<path d="M475.6,268.1 476.9,267.2 478.1,268.1 477.5,271 476,270Z" fill="none" stroke="#cdcdcd" stroke-width=".7" stroke-linejoin="round"/>
<path d="M440,248.8 441.5,246 442.5,246.2 442,249.4Z" fill="none" stroke="#cdcdcd" stroke-width=".7" stroke-linejoin="round"/>
<path d="M441.2,242.5 443.1,240 447.5,239.8 453.1,239.4 452.5,243.8 450.6,247.5 448.8,250.6 446.9,250 443.8,250.6 442,249.4 442.5,246.2 441.5,245.6Z" fill="none" stroke="#cdcdcd" stroke-width=".7" stroke-linejoin="round"/>
<path d="M457.5,228.2 460.5,228.2 461,226.8 463,226.5 467,229 469,232 467,235 465,234 463,233 461,234 459.5,235 459,232 458,229Z" fill="none" stroke="#cdcdcd" stroke-width=".7" stroke-linejoin="round"/>
<path d="M561,262.6 567.6,262 568,264.6 561.6,265Z" fill="none" stroke="#cdcdcd" stroke-width=".7" stroke-linejoin="round"/>
<path d="M629,231 632,228 635,225.5 637.5,224.5 639,224 640.5,226.5 639,229 639,232 639.5,235 637.5,235.5 635,236.5 632.5,236.5 630.5,234Z" fill="none" stroke="#cdcdcd" stroke-width=".7" stroke-linejoin="round"/>
<path d="M402.2,224 403.1,222.3 405,224.3 404.7,225.7 403.3,225.3 402,225Z" fill="none" stroke="#cdcdcd" stroke-width=".7" stroke-linejoin="round"/>
<path d="M403.3,217.1 405,215.8 407.1,215 408.8,217.1 410,219.6 410.4,222.1 409.6,224.2 407.5,225 406.7,223.8 405,223.3 403.5,220.4 402.9,218.3Z" fill="none" stroke="#cdcdcd" stroke-width=".7" stroke-linejoin="round"/>
<path d="M403.3,190.7 404,189.3 407,190 410.3,190.3 413,190.7 413.7,192.3 412.3,194 409.7,194.7 407,194.3 406.3,193.3 403.7,192.7Z" fill="none" stroke="#cdcdcd" stroke-width=".7" stroke-linejoin="round"/>
<path d="M413.7,192.3 413.7,190.7 416.3,189 418.3,189.3 421,191 423.7,193 425,195.7 426.3,197.7 424.3,199 423.7,201.3 421,202 417,201.3 413.7,201.3 411,201.7 410,199.7 410.3,197 409.7,194.7 412.3,194Z" fill="none" stroke="#cdcdcd" stroke-width=".7" stroke-linejoin="round"/>
<path d="M598,300.3 601.5,298.5 604.4,297.3 606.2,298.5 608.5,297.3 609.1,303.8 607.3,306.7 603.8,309 599.8,308.4 598,304.3Z" fill="none" stroke="#cdcdcd" stroke-width=".7" stroke-linejoin="round"/>
<path d="M537.5,206.7 540.8,207.5 547.5,214.2 552.5,217.5 558.3,220.8 565,224.2 571.7,225 580,225.8 586.7,225.8 593.3,222.5 595.8,220 598.3,216.7 602.5,215.8 607.5,213.3 605,211.7 598.3,210 596.7,206.7 598.3,206.7 600.8,202.5 600,199.2 603.3,197.5 610,198.3 616.7,201.7 622.5,205.8 629.2,210 635,210.8 637.5,215 638.3,220 636.7,224.2 633.3,227.5 630,230 628.3,231.7 636.7,240 640,265 620,286.7 610,288.3 606.7,280.8 604.2,278.3 600,275.8 597.5,276.7 593.3,278.3 590,275.8 585.8,272.5 584.2,268.3 582.5,264.2 579.2,263.3 576.7,260 571.7,261.7 568.3,265 567.5,262.5 561.7,262.5 560,263.3 553.3,261.7 547.5,259.2 543.3,257.5 540.8,255 537.5,250.8 535.8,246.7 532.5,244.2 530,240 525.8,236.7 522.5,231.7 525,227.5 529.2,225.8 531.7,222.5 530,217.5 535,215 533.3,211.7Z" fill="none" stroke="#5e5048" stroke-opacity=".65" stroke-width=".5" stroke-linejoin="round"/>
<path d="M537.5,206.7 540.8,207.5 548.3,204.2 557.5,200.8 563.3,203.3 571.7,205 580,204.2 588.3,206.7 596.7,206.7 598.3,210 605,211.7 607.5,213.3 602.5,215.8 598.3,216.7 595.8,220 593.3,222.5 586.7,225.8 580,225.8 571.7,225 565,224.2 558.3,220.8 552.5,217.5 547.5,214.2 540.8,207.5Z" fill="none" stroke="#5e5048" stroke-opacity=".65" stroke-width=".5" stroke-linejoin="round"/>
<path d="M457.1,206.9 458.9,203.9 463,202.2 468.9,201.6 474.9,202.8 480.8,203.3 484.3,202.8 483.7,199.2 481.4,196.2 487.9,194.5 495,192.7 498.5,193.3 502.1,196.2 506.8,196.8 511.5,194.5 515.1,198 521,201.6 526.9,202.8 532.8,204.5 538.2,207.5 537,210.4 532.8,213.4 531.7,216.4 529.3,219.3 531.7,223.5 526.9,224.1 521,223.5 515.1,224.6 511.5,225.8 510.4,228.8 508,230 505.6,228.2 502.1,224.6 498.5,222.3 493.8,222.9 489.1,221.1 484.3,218.7 480.2,217.5 478.4,219.9 479.6,224.1 480.2,227 477.8,225.8 473.7,224.1 469.5,221.1 471.9,217.5 471.3,214.6 467.8,214 465.4,215.8 462.4,214.6 459.5,211Z" fill="none" stroke="#5e5048" stroke-opacity=".65" stroke-width=".5" stroke-linejoin="round"/>
<path d="M478.4,219.3 480.2,217.5 484.3,218.7 489.1,221.1 493.8,222.9 498.5,222.3 502.1,224.6 505.6,228.2 508,230 510.4,228.8 511.5,231.2 509.2,232.3 508,234.7 509.2,237.7 508,238.8 505,237.1 502.1,234.1 498.5,231.2 495,228.8 491.4,227 487.9,225.2 484.3,225.8 481.4,227.6 479.6,224.1Z" fill="none" stroke="#5e5048" stroke-opacity=".65" stroke-width=".5" stroke-linejoin="round"/>
<path d="M511.5,225.8 515.1,224.6 521,223.5 526.9,224.1 531.7,223.5 530.5,225.8 525.7,228.2 521,230 517.5,231.7 514.5,232.3 511.5,231.2 514.5,230 517.5,229.4 516.3,228.2 512.7,228.8 510.4,228.8Z" fill="none" stroke="#5e5048" stroke-opacity=".65" stroke-width=".5" stroke-linejoin="round"/>
<path d="M511.5,229.4 514.5,228.6 517.2,229.4 514.5,230.9 512.1,230.6Z" fill="none" stroke="#5e5048" stroke-opacity=".65" stroke-width=".5" stroke-linejoin="round"/>
<path d="M459.4,233.8 462.5,235 465.6,236.9 469.4,238.8 473.1,239.4 477.5,238.1 482.5,236.9 486.2,236.9 491.2,238.8 495,242.5 496.9,247.5 497.5,251.9 499.4,256.2 500.6,260.6 502.5,263.8 504.4,265.6 500.6,270 500,272.5 492.5,271.2 488.1,268.8 485,267.5 482.5,265.6 479.4,263.1 475.6,260 472.5,258.1 470.6,258.1 469.4,256.2 468.1,253.1 465.6,249.4 463.1,245 461.2,241.2 459.4,238.1Z" fill="none" stroke="#5e5048" stroke-opacity=".65" stroke-width=".5" stroke-linejoin="round"/>
<path d="M453.1,239.4 456.9,238.8 459.4,238.1 461.2,241.2 463.1,245 465.6,249.4 468.1,253.1 469.4,256.2 467.5,258.1 465.6,259.4 461.2,258.8 456.9,256.2 452.5,253.1 448.8,250.6 450.6,247.5 452.5,243.8Z" fill="none" stroke="#5e5048" stroke-opacity=".65" stroke-width=".5" stroke-linejoin="round"/>
<path d="M467.5,258.1 469.4,256.2 470.6,258.1 470,260.2 468.1,260.6Z" fill="none" stroke="#5e5048" stroke-opacity=".65" stroke-width=".5" stroke-linejoin="round"/>
<path d="M448.8,253.1 452.5,253.1 456.9,256.2 461.2,258.8 465.6,259.4 468.1,260.6 470,262.5 473.1,265 475.6,268.1 477.5,270.6 479.4,273.1 480,275.6 480.7,275.6 483.3,276 487.2,277.3 487.7,279.9 487.2,283.4 481.6,286 474.7,287.7 470.3,290.8 460.4,292.1 457.3,288.6 448.7,273.9 440,260 437.5,258.8 441.2,260.6 442.5,258.1 446.2,256.2 448.8,255Z" fill="none" stroke="#5e5048" stroke-opacity=".65" stroke-width=".5" stroke-linejoin="round"/>
<path d="M479.9,274.3 482.5,273.9 485.1,272.1 487.2,269.5 489,267.8 490.3,270.4 488.5,273 487.7,276 487.2,277.3 483.3,276 480.7,275.6Z" fill="none" stroke="#5e5048" stroke-opacity=".65" stroke-width=".5" stroke-linejoin="round"/>
<path d="M441.2,260.6 442.5,258.1 446.2,256.2 448.8,255 448.8,253.1 446.9,250 443.8,250.6 441.9,251.9 441.5,255Z" fill="none" stroke="#5e5048" stroke-opacity=".65" stroke-width=".5" stroke-linejoin="round"/>
<path d="M438.8,254.4 440.2,251.9 441,249.4 441.9,250 441.9,251.9 441.5,255 441,259.4Z" fill="none" stroke="#5e5048" stroke-opacity=".65" stroke-width=".5" stroke-linejoin="round"/>
<path d="M419.5,231 420,229 420,227 423.5,227 425,228 429,227.5 432,226.5 435,227 439,228 443,229 447,229 451,228 455,228.5 458,229 459,232 459.5,235 460,238 455,239.5 451,239.8 447,240.2 442,241 439,242 425,242 419,238Z" fill="none" stroke="#5e5048" stroke-opacity=".65" stroke-width=".5" stroke-linejoin="round"/>
<path d="M447.1,222.3 450,223.2 453.3,224.2 456.7,225.4 460,226.7 460.7,227.9 458.3,228.3 455.4,228.1 452.5,227.3 450.8,226.5 449.6,225Z" fill="none" stroke="#5e5048" stroke-opacity=".65" stroke-width=".5" stroke-linejoin="round"/>
<path d="M531,244 536,249 535,254 542,258 550,262 560,265 562,263 568,262 573,260 579,261 578,265 573,267 574,274 572,278 568,281 560,283 552,293 546,317 540,317 516,281 516,276 517.5,273.8 519,271.5 521.6,270.8 520.1,268.9 519,265.5 521.6,263.3 524.3,261.8 526.1,258.8 526.9,255 526.5,252 524.3,247.5 525,245.6 528,244.5 531,243.8Z" fill="none" stroke="#5e5048" stroke-opacity=".65" stroke-width=".5" stroke-linejoin="round"/>
<path d="M542,258 550,262 560,265 559.6,267.4 552,266 545,263 541,260Z" fill="none" stroke="#5e5048" stroke-opacity=".65" stroke-width=".5" stroke-linejoin="round"/>
<path d="M562,268 567,267.4 570,272 571,280 568,281 565,279.4 562.4,273Z" fill="none" stroke="#5e5048" stroke-opacity=".65" stroke-width=".5" stroke-linejoin="round"/>
<path d="M635,236.5 637.5,235.5 639.5,235 643,239 645,243.5 643,246 640,246.5 637.5,246 635.5,242.5 634.5,239.5Z" fill="none" stroke="#5e5048" stroke-opacity=".65" stroke-width=".5" stroke-linejoin="round"/>
<path d="M344.5,225.5 349,226.5 349.5,230 348.8,235 348,239 345,241 342,239 342,228Z" fill="none" stroke="#5e5048" stroke-opacity=".65" stroke-width=".5" stroke-linejoin="round"/>
<path d="M343,223.5 347,221.5 352,222 357,223.5 361.5,224 365,224.8 369,225.2 370,227 366,231 360.5,239.5 353,242.5 349,242.5 348,239 348.8,235 349.5,230 349,226.5 344.5,225.5Z" fill="none" stroke="#5e5048" stroke-opacity=".65" stroke-width=".5" stroke-linejoin="round"/>
<path d="M353,210 356.5,208.5 359.5,208 359,206 362,205.5 365,204 368,203.2 369.5,204.5 372.5,206 375.5,207 378.5,208.5 378,211 376.5,213 375.5,215 377,217 378,219.5 379.5,222 377,224 374,223.5 371,224.2 369,225.2 365,224.8 361.5,224 359,223 360,219 359.5,215Z" fill="none" stroke="#5e5048" stroke-opacity=".65" stroke-width=".5" stroke-linejoin="round"/>
<path d="M377.5,217 378,216 381,215.5 383,214 386,214.2 390,214.8 391.2,216 389.5,218 390,220.5 393,223.5 396.5,227 400,229.5 403,231.5 400,238 395,237 387,226 382,221 379.5,222 378,219.5Z" fill="none" stroke="#5e5048" stroke-opacity=".65" stroke-width=".5" stroke-linejoin="round"/>
<path d="M405.8,223.7 408,224 408.3,226 406.7,226.2 405.7,225Z" fill="none" stroke="#5e5048" stroke-opacity=".65" stroke-width=".5" stroke-linejoin="round"/>
<path d="M377.5,196.7 380.8,195 382.9,193.3 385,194.6 389.2,195 390.8,196.2 392.1,198.8 391.7,201.7 389.2,202.9 387.9,205 389.6,207.1 390,209.2 387.5,210 385,209.6 382.1,210 379.6,210.8 378.8,208.3 376.7,207.1 376.2,203.8 377.1,200.8Z" fill="none" stroke="#5e5048" stroke-opacity=".65" stroke-width=".5" stroke-linejoin="round"/>
<path d="M391.7,196.7 395,195 398.3,194 401.7,194.3 405.8,194.3 408.8,195.8 410,199.2 409.6,202.9 410.4,205 407.5,206.2 404.2,205.8 400.8,204.6 397.5,203.8 394.2,202.9 391.7,201.7 392.1,198.8 390.8,196.2Z" fill="none" stroke="#5e5048" stroke-opacity=".65" stroke-width=".5" stroke-linejoin="round"/>
<path d="M387.9,205 390.8,203.5 394.2,203.2 397.5,204 400,205.8 398.3,207.5 395.4,208.8 392.1,209.2 390,208.8 389.2,206.8Z" fill="none" stroke="#5e5048" stroke-opacity=".65" stroke-width=".5" stroke-linejoin="round"/>
<path d="M398.3,207.7 400,206 404.2,206 407.5,206.5 408.3,207.5 406.2,208.8 402.9,209.3 400,210 397.9,209.6Z" fill="none" stroke="#5e5048" stroke-opacity=".65" stroke-width=".5" stroke-linejoin="round"/>
<path d="M385,209.8 387.5,210.2 390,209.2 392.5,209.3 395.4,209 397.9,209.8 397.1,211.7 395.8,212.9 392.5,213.8 389.2,213.3 386.7,212.5 384.6,212.1 382.1,212.1 382.3,210.2Z" fill="none" stroke="#5e5048" stroke-opacity=".65" stroke-width=".5" stroke-linejoin="round"/>
<path d="M397.1,211.8 397.9,209.8 400,210.2 402.9,209.6 406.2,209 408.3,207.9 408.8,210 407.1,212.9 404.2,214.6 400.8,215.4 398.3,215 396.7,213.8Z" fill="none" stroke="#5e5048" stroke-opacity=".65" stroke-width=".5" stroke-linejoin="round"/>
<path d="M391.5,214.3 392.9,213.9 395.8,213.2 397.1,213.8 396.2,215.4 393.8,216 391.8,215.7Z" fill="none" stroke="#5e5048" stroke-opacity=".65" stroke-width=".5" stroke-linejoin="round"/>
<path d="M391.8,215.8 393.8,216.2 396.2,215.5 397.1,214 398.8,215.2 401.7,216.2 403.3,217.1 402.9,218.3 400,217.7 397.5,217.9 396,218.3 397.1,220.4 399.2,222.5 401.2,224.2 400.4,225.8 397.5,223.8 394.6,220.8 392.9,218.3 391.7,217.7Z" fill="none" stroke="#5e5048" stroke-opacity=".65" stroke-width=".5" stroke-linejoin="round"/>
<path d="M396,218.3 397.5,217.9 400,217.7 402.9,218.3 403.5,220.4 402.9,222.9 401.7,224.2 399.2,222.5 397.1,220.4Z" fill="none" stroke="#5e5048" stroke-opacity=".65" stroke-width=".5" stroke-linejoin="round"/>
<path d="M375.8,213.8 377.5,212.5 379.6,211.5 382.1,212.1 384.6,212.3 383.8,214.2 381.7,215 379.2,215.7 377.1,216 375.7,215.2Z" fill="none" stroke="#5e5048" stroke-opacity=".65" stroke-width=".5" stroke-linejoin="round"/>
<path d="M371.2,198.8 373.3,197.5 376.2,196.7 377.5,197.1 377.1,200.8 376.2,203.3 373.8,202.7 372.1,201.7Z" fill="none" stroke="#5e5048" stroke-opacity=".65" stroke-width=".5" stroke-linejoin="round"/>
<path d="M368.3,202.9 371.2,202.1 373.8,202.7 376.2,203.3 376.7,205.4 375.4,206.7 372.9,205.7 370,204.8Z" fill="none" stroke="#5e5048" stroke-opacity=".65" stroke-width=".5" stroke-linejoin="round"/>
<path d="M377.9,188.3 380.4,187.1 382.7,186.5 383.2,188.8 382.3,190.8 383.2,193.3 380.8,195 378.8,193.8 377.9,190.8Z" fill="none" stroke="#5e5048" stroke-opacity=".65" stroke-width=".5" stroke-linejoin="round"/>
<path d="M406.7,226.2 408.3,226 410.3,225 411.3,226.7 411,228.3 408.7,228.9 406.7,228.3Z" fill="none" stroke="#5e5048" stroke-opacity=".65" stroke-width=".5" stroke-linejoin="round"/>
<path d="M403.3,225.3 404.7,225.7 405.7,225 406.7,226.2 406.7,228.3 407,230.3 406,231.7 404.3,231.3 403,228Z" fill="none" stroke="#5e5048" stroke-opacity=".65" stroke-width=".5" stroke-linejoin="round"/>
<path d="M406,231.7 407,230.3 406.7,228.3 408.7,228.9 411,228.3 411.3,226.7 413.7,227.3 416.3,228 419,227.7 419.7,229.7 417,230.3 415,230 415.7,233 415.7,242.3 410.3,242.3 405.7,233.7Z" fill="none" stroke="#5e5048" stroke-opacity=".65" stroke-width=".5" stroke-linejoin="round"/>
<path d="M410.7,221.7 413,221.3 416.3,221.7 419.7,221 421.7,221.7 422.3,224 421,226.3 419,227.7 416.3,228 413.7,227.3 411.3,226.7 410.3,225 411,223.3Z" fill="none" stroke="#5e5048" stroke-opacity=".65" stroke-width=".5" stroke-linejoin="round"/>
<path d="M406.3,213.7 408.3,211.7 411.7,211 415,211.3 417.7,210.7 419.7,212.3 421.3,215 422.3,217.3 424.3,217.7 424.3,219.3 422.7,220 421.7,221.7 419.7,221 416.3,221.7 413,221.3 410.7,221.7 410,219.3 408.3,217 407,216Z" fill="none" stroke="#5e5048" stroke-opacity=".65" stroke-width=".5" stroke-linejoin="round"/>
<path d="M417.7,210.7 419.7,210 421.7,211.7 423.7,214.3 424.3,216.3 423.3,217 422.3,217.3 421.3,215 419.7,212.3Z" fill="none" stroke="#5e5048" stroke-opacity=".65" stroke-width=".5" stroke-linejoin="round"/>
<path d="M410,202 414,201.5 419,202 424,201.5 428,200.5 430,200 433,203 437,204.5 442,206 444,208 443.5,211 440.5,213.5 439,215 441,215 439,217.5 436,218 434.5,216 432.5,217 433.5,219.5 432,219 431,217 428,215.5 425,216 423.5,215 424,213 422.2,210.5 420.5,209 418.5,207.8 416,210 413,210.5 410,210 408.5,208.5 409.5,205Z" fill="none" stroke="#5e5048" stroke-opacity=".65" stroke-width=".5" stroke-linejoin="round"/>
<path d="M404,187.7 407,188 408,187 407,185 409.7,186 413,186.3 416,187 416.3,189 413.7,190.7 413,190.7 410.3,190.3 407,190 404,189.3Z" fill="none" stroke="#5e5048" stroke-opacity=".65" stroke-width=".5" stroke-linejoin="round"/>
<path d="M405.7,183.7 407.7,182.3 411.7,182.2 415.7,181.8 415.7,184 414.7,185.7 415,187 413,186.3 409.7,186 407,185Z" fill="none" stroke="#5e5048" stroke-opacity=".65" stroke-width=".5" stroke-linejoin="round"/>
<path d="M372.5,177 374.5,175 378,173 381,170.5 384,167 386.5,164 389.5,161.5 394,159 398,157.5 402.5,156.2 408,155.8 412,156.5 414,158.2 412,159.5 410.5,159 409,158.2 407,158.5 405,160.5 403.5,161.2 401,161.2 399,160.5 396.5,161.2 394,162.5 391,164 389,166.5 387.5,169.5 386,172.5 384.5,175 385,178 386,180.5 385,183.5 380,186 372,185Z" fill="none" stroke="#5e5048" stroke-opacity=".65" stroke-width=".5" stroke-linejoin="round"/>
<path d="M396.5,161.2 399,160.5 401,161.2 403.5,161.2 403,163.5 403.5,166.8 401.5,169.5 398.5,175 397.5,182 396,187 390,194 387,194 387,189 386,186 385,183.5 386,180.5 385,178 384.5,175 386,172.5 387.5,169.5 389,166.5 391,164 394,162.5Z" fill="none" stroke="#5e5048" stroke-opacity=".65" stroke-width=".5" stroke-linejoin="round"/>
<path d="M403.5,161.2 405,160.5 407,158.5 409,158.2 410.5,159 411,161.5 413,164 414.5,167 415.5,170 417,172.5 419.5,175 418,177 416,179 415,181.2 411,182 405,182 401.5,179 402,173 405,169.5 403.5,166.8 403,163.5Z" fill="none" stroke="#5e5048" stroke-opacity=".65" stroke-width=".5" stroke-linejoin="round"/>
<path d="M577,263.5 579.3,262.3 581.7,264.7 582.8,268.8 584.6,271.7 587.5,275.8 590.4,278.7 592.2,280.4 590.4,283.3 588.7,282.8 585.2,285.1 584.6,288.6 585.8,292.1 586.9,296.2 587.5,299.7 589.3,303.8 588.7,306.7 585.2,306.7 570,289.2 570,271.7 573.5,267Z" fill="none" stroke="#5e5048" stroke-opacity=".65" stroke-width=".5" stroke-linejoin="round"/>
<path d="M585.2,285.1 588.7,282.8 590.4,283.3 592.2,288.6 595.1,289.2 598.6,288 601.5,291.5 602.7,295 601.5,298.5 598,300.3 596.3,302.6 593.3,301.4 591.6,303.2 591,306.7 591.6,310.2 592.5,313.3 595,317.5 594.2,320.8 590.9,316.7 589.1,311.7 588.7,306.7 589.3,303.8 587.5,299.7 586.9,296.2 585.8,292.1 584.6,288.6Z" fill="none" stroke="#5e5048" stroke-opacity=".65" stroke-width=".5" stroke-linejoin="round"/>
<path d="M590.4,283.3 592.2,280.4 593.9,277.5 596.3,279.3 598.6,282.2 601.5,284.5 603.3,287.4 605,290.9 607.3,294.4 608.5,297.3 606.2,298.5 604.4,297.3 602.7,295 601.5,291.5 598.6,288 595.1,289.2 592.2,288.6Z" fill="none" stroke="#5e5048" stroke-opacity=".65" stroke-width=".5" stroke-linejoin="round"/>
<path d="M593.9,277.5 596.8,275.8 600.9,275.2 604.4,277.5 608.5,279.8 608.5,283.3 616.7,298.5 615.5,309 603.8,316 603.8,309.6 607.3,306.7 609.1,303.8 608.5,300.3 608.5,297.3 607.3,294.4 605,290.9 603.3,287.4 601.5,284.5 598.6,282.2 596.3,279.3Z" fill="none" stroke="#5e5048" stroke-opacity=".65" stroke-width=".5" stroke-linejoin="round"/>
<path d="M594.2,320.8 595,317.5 597.5,319.2 600,322.5 602.6,327.4 604.4,332.3 600.3,334.7 595.8,325.8Z" fill="none" stroke="#5e5048" stroke-opacity=".65" stroke-width=".5" stroke-linejoin="round"/>
<path d="M431.2,216.7 432.9,219.8 434.8,220.4 436.5,219.2 437.3,217.1 435.4,215.7 433.3,216Z" fill="none" stroke="#5e5048" stroke-opacity=".65" stroke-width=".5" stroke-linejoin="round"/>
</g>
<path d="M351,242 349.5,240.5 348,239 345,239.5 343.5,237 344,232 343.5,228 344.5,225.5 344,223.5 347,222.2 352,222.8 357,223.5 360,222.5 360.5,219 360,215 358,213 355.5,211.5 354,210 356.5,209 359.5,208.5 359,206.5 362,206 365,204.5 368,203.5 370,202.8 372,201 372,198.5 375,197 376.5,197.5 379,196 380,194 379,191 379,188.5 381,187.2 382.8,188 383,190.5 382.5,193 383,195 387,195 390.5,196.5 395,195 400,194.5 403,193.5 404,192 403.5,189.5 404.5,187.5 407,187 408,188.5 409.5,187 407.5,185 406.5,183.5 409,182.8 412,182.5 415,183 416,182 414,180.5 411,181.2 408,181.5 405,181 402.5,180 401.5,177 401.5,174.5 403.5,172 406,170 407,168.5 405,167.5 403.5,166.8 402,167.8 400.5,168.8 399.5,170.5 397,173 395,175 394.5,177.5 395.5,180 397,181.5 396,184 394.5,185 394,188 392.5,190.5 390,192.2 388.5,192.5 387,189 386,186 385,183.5 383,183.5 380,184.8 376,185 373.5,184 372.5,181 372.5,177 374.5,175 378,173 381,170.5 384,167 386.5,164 389.5,161.5 394,159 398,157.5 402.5,156.2 408,155.8 412,156.5 414,158.2 417,159 421,159.5 425,160 429,161.2 433,163 434,165 432,166 429,165.5 426,165 423,165.5 420.5,166 423,167.5 425,169.5 427,171 429,169.5 431,168.5 434,168 435,166.5 437,165 439.5,164.5 438.5,162.5 436.5,161.5 439,161.2 442,162 442.5,164 445,164.5 448,163 450,162 452,162 458,160.6 464,161 470,158 473,154 477,152 480,155 482,160 486,164 489,166 488,161 485,157 483,153 487,155 493,150 500,148 508,145 515,144 520,143 526,145 532,146 538,150 544,151 552,150 560,151 568,153 576,156 584,155 592,154 600,155 610,154 610,155 620,156.6 630,159 640,159.4 648,161 645,159 650,158 658,159.4 666,161 672,165 678,169.4 686,175 679,176 676,180 670,181 665,182 667,185 672,189 676,194 675,203 671,198 667,194 662,190 659,187 660,182 659,176 656,179 650,178 648,182 640,183 632,183.4 627,185 624,194 631,195 637,196.6 641,200 644,205 646,211 645,219 643,224 638,225 638,225 639,230 640,235 643.6,240 642.4,245 638,245.4 635.6,241 634.4,236.6 631.6,235 629,233.4 627,232 623,231 620,230 616,234 619,236.6 623,236 627,239 623,243 625,248 629,252 633,257 634.4,263 632.4,269 629,274 623,277 617,279 613.8,279.3 611.4,280.4 608.5,281.6 606.2,280.4 603.8,283.3 602.7,286.3 605,289.2 608.5,292.7 611.4,296.2 613.4,300.3 613.2,304.9 610.3,308.4 606.8,311.3 604.4,313.1 603.8,309.6 603.8,308.4 600.3,307.3 598.6,304.3 598,300.3 596.3,302.6 593.3,301.4 591.6,303.2 591,306.7 591.6,310.2 592.5,313.3 595,317.5 597.5,319.2 600,322.5 602.6,327.4 603.5,331.4 601.7,333.2 599.2,330.8 595.8,325.8 594.2,320.8 590.9,316.7 589.1,311.7 588.7,306.7 587.5,303.8 586.3,299.7 584.6,295 581.1,293.3 578.2,293.8 576.4,289.2 574.1,285.1 572.3,281 571.8,276.3 571,278 568,279 565,277.4 561,279 556,285 551,291 547,296 546,304 545,311 542,315 539,310 536,303 533,295 530,287 528,281 523,282 519,278 519,276 517.5,273.8 515.6,273 514.1,271.5 512.3,270 509.3,269.3 505.5,269.3 502.5,269.6 500.6,270 498,269.6 495,268.9 492,268.1 490.5,266.3 487.5,265.9 483.8,266.3 482.5,264.4 479.4,261.9 475.6,258.8 472.5,257.2 470.6,257.8 470,258.8 470.6,261.9 473.1,265 475.6,268.1 476,269.4 476.9,267.5 478.1,268.1 477.5,270.6 479.4,272.5 480,274.4 483.8,273.1 486.9,270.6 488.8,268.8 489.8,268.8 491.2,271.2 493.8,273.1 496.9,276.2 498.1,280 496.3,281.7 492.9,284.7 489.4,287.7 485.9,290.3 483.3,292.1 482.5,293.4 479,295.5 474.7,298.1 470.3,299.4 466,300.7 461.2,302.5 461.2,300.7 460.8,296.4 460.4,292.5 458.6,289.5 456.5,286 453.9,282.5 451.7,279.1 450.8,275.6 448.7,272.1 446.1,267.8 443.5,263.5 441.3,260 441,259.4 439.8,254.4 440.2,251.9 441,248.8 441.5,245.6 442.2,242.5 442,241 439,240.5 435,240.5 431,240 427,240.5 423,240 424,240.3 422.3,239 421.3,237 420.3,235 419.7,233 420.3,231 421.3,230 423.7,229.3 423.3,228.3 421.3,228.5 419.3,229.3 417,229.7 415,229.3 413.7,230 414.7,231.7 413,231.3 412.7,233 414.3,235.7 414.7,238.3 413.3,241 411.3,240.7 409.7,238.3 408,235.7 406.7,233.3 406,231.7 404.7,230.7 404,228 403.3,225.3 402.2,224.3 401,225 398.3,222.9 395.7,220.9 394.3,219.3 392,218.7 391.3,217.3 391,216 389.5,218 390,220.5 393,223.5 396.5,227 400,229.5 402,231.5 400,232 399,234 399.5,236 397.5,236.5 397.5,234 396,231 393,229 390,227 387,224.5 384.5,222 382,220 379.5,221 379,221.5 377,223 374,222.5 371,223.5 369,225.2 368.5,227 366,229 364,231.5 362.5,235 360.5,238 357,239.5 353,241Z" fill="none" stroke="#5e5048" stroke-opacity=".65" stroke-width=".5" stroke-linejoin="round"/>
<path d="M422.1,220.8 422.9,217.9 425,215.8 427.5,215 429.6,215.8 431.7,217.7 432.9,219.6 434.6,220 436.2,219 438.8,219.3 441.7,220.8 445,222.1 447.9,222.9 450,224.3 451,226.2 449.6,227.9 447.1,228.3 443.8,228.8 440,227.9 436.7,227.1 433.3,226.7 430,227.1 426.7,227.9 423.8,227.9 422.1,225.8 421.7,223.3Z" fill="#fff" stroke="#5e5048" stroke-opacity=".65" stroke-width=".5" stroke-linejoin="round"/>
<path d="M435.4,215 437.9,214 440.4,214.2 441,215.4 439.2,216.7 436.8,217.1 435.4,216.2Z" fill="#fff" stroke="#5e5048" stroke-opacity=".65" stroke-width=".5" stroke-linejoin="round"/>
<path d="M460.4,219.6 461.7,217.1 464.2,215.4 467.1,214.2 470,213.8 472.1,215 471.8,216.7 469.2,217.9 467.5,219.6 468.5,221.5 470,223.3 472.5,225 474.6,226.5 475.8,229.2 476.8,232.1 478.8,234.2 479.6,237.1 478.3,238.8 475,239.2 471.7,237.5 469.6,235 468.3,231.7 467.1,228.8 465,226.7 463.3,224.6 461.7,222.1Z" fill="#fff" stroke="#5e5048" stroke-opacity=".65" stroke-width=".5" stroke-linejoin="round"/>
<path d="M618.1,404.8 619.2,397.4 623.4,392.1 629.8,388.9 636.1,385.8 641.4,381.5 645.7,377.3 650.9,375.2 655.2,373.1 659.4,374.1 661.5,368.8 666.8,365.7 672.1,367.3 676.4,368.2 674.2,373.1 677.4,377.3 681.7,380.1 684.8,381.5 686.9,375.2 688,368.8 690.1,363.5 691.8,369.9 694.4,375.2 695.4,381.5 698.6,384.7 701.8,391.1 704.9,397.4 706.6,403.8 705.8,403.2 703.5,408.8 700.7,414.5 696,421.1 690.4,427.6 685.6,433.3 680,435.2 674.4,437.1 668.7,436.1 664.9,432.4 663.1,427.6 664,422.9 660.2,426.7 657.4,422.9 653.6,419.2 647.1,418.6 640.5,420.1 633.9,422.9 626.4,424.8 620.7,426.7 616,426.7 614.1,423.9 616.9,418.2 618.4,410.7 617.9,403.2Z" fill="#993404" stroke="#5e5048" stroke-opacity=".65" stroke-width=".5" stroke-linejoin="round"/>
<path d="M669.6,442.7 673.4,442.3 676.2,443.1 674.4,446.5 671.2,448.7 667.8,449.3 668.7,445.5Z" fill="#993404" stroke="#5e5048" stroke-opacity=".65" stroke-width=".5" stroke-linejoin="round"/>
<path d="M739.3,426.7 740.8,426.7 741.6,430.5 744,434.2 746.4,434.2 744,437.1 740.2,439.3 736.5,442.3 732.7,444.2 733.6,440.8 735.9,438.6 738.9,436.1 739.7,431.8Z" fill="#cc4c02" stroke="#5e5048" stroke-opacity=".65" stroke-width=".5" stroke-linejoin="round"/>
<path d="M729.9,442.3 730.8,444.6 726.1,447.4 720.5,451.2 714.8,454.9 709.2,456.8 705.8,455.9 708.2,453.1 712.9,450.6 718.6,448.4 724.2,445Z" fill="#cc4c02" stroke="#5e5048" stroke-opacity=".65" stroke-width=".5" stroke-linejoin="round"/>
<path d="M582.5,322.5 585.8,321.3 590.8,325.8 595.8,331.7 600.8,337.5 605,343.3 607.5,349.2 605.8,351.3 601.7,348.3 596.7,341.7 591.7,335 586.7,328.3 583.3,325Z" fill="#fe9929" stroke="#5e5048" stroke-opacity=".65" stroke-width=".5" stroke-linejoin="round"/>
<path d="M606.7,352 610.8,351.3 618.3,354.2 625,356.3 628.3,357.5 625,358.7 618.3,357.5 611.7,355.8 607.5,354.2Z" fill="#fe9929" stroke="#5e5048" stroke-opacity=".65" stroke-width=".5" stroke-linejoin="round"/>
<path d="M615,334.2 617.5,330.8 622.5,329.2 628.3,324.2 630.8,320 633.3,318.3 637.5,321.7 636.7,325 634.2,325.8 635,330.8 636.7,334.2 634.2,337.5 632.5,341.7 630,345.8 625,345 619.2,343.3 616.7,340 614.7,336.7Z" fill="#fe9929" stroke="#5e5048" stroke-opacity=".65" stroke-width=".5" stroke-linejoin="round"/>
<path d="M615.8,333 617.5,330.8 622.5,329.2 628.3,324.2 630.8,320 633.3,318.3 637.5,321.7 636.7,325 634.2,325.8 631.7,325.8 628.3,328 625,330.8 620.8,332.5 617.5,333.7Z" fill="#fee391" stroke="#5e5048" stroke-opacity=".65" stroke-width=".5" stroke-linejoin="round"/>
<path d="M638.3,340 640.8,335.8 646.7,333 651.7,331.7 650.8,333.7 645.8,335.8 642.5,339.2 645,342.5 646.7,347.5 645,350 642.5,345.8 640.8,343.3 640,349.2 638,347.5Z" fill="#fe9929" stroke="#5e5048" stroke-opacity=".65" stroke-width=".5" stroke-linejoin="round"/>
<path d="M657,330.8 659.2,331.7 659.7,335.8 658,338.3 657,335Z" fill="#fe9929" stroke="#5e5048" stroke-opacity=".65" stroke-width=".5" stroke-linejoin="round"/>
<path d="M665,338.3 669.2,337 672.5,339.2 670.8,342.5 675,343.3 680,340.8 685,340 688.3,341.7 688.3,358.3 684.2,357.5 680.8,354.2 678.3,350.8 675,347.5 672.5,345 668.3,341.7Z" fill="#fe9929" stroke="#5e5048" stroke-opacity=".65" stroke-width=".5" stroke-linejoin="round"/>
<path d="M688.3,341.7 692.5,343.3 697.5,345.8 701.7,350 700.8,352.5 704.2,355.8 708.3,362.5 703.3,360.8 699.2,357.5 694.2,356.7 691.7,358.3 688.3,358.3Z" fill="url(#hatch)" stroke="#cdcdcd" stroke-width=".7" stroke-linejoin="round"/>
<path d="M646.7,361.7 652.5,357.5 655,358 649.2,362.5Z" fill="#fe9929" stroke="#5e5048" stroke-opacity=".65" stroke-width=".5" stroke-linejoin="round"/>
<path d="M631.7,358 635.8,357 636.7,358.7 632.5,359.2Z" fill="#fe9929" stroke="#5e5048" stroke-opacity=".65" stroke-width=".5" stroke-linejoin="round"/>
<path d="M637.5,357.5 641.7,356.7 645,357.5 641.7,359.2Z" fill="#fe9929" stroke="#5e5048" stroke-opacity=".65" stroke-width=".5" stroke-linejoin="round"/>
<path d="M637,360.8 639.7,360.3 640.3,362 638,362.5Z" fill="#fe9929" stroke="#5e5048" stroke-opacity=".65" stroke-width=".5" stroke-linejoin="round"/>
<path d="M653.3,344.2 657.5,343.7 657.8,345 653.7,345.3Z" fill="#fe9929" stroke="#5e5048" stroke-opacity=".65" stroke-width=".5" stroke-linejoin="round"/>
<path d="M658.3,343.3 662.5,343.7 662.2,345 658.7,344.7Z" fill="#fe9929" stroke="#5e5048" stroke-opacity=".65" stroke-width=".5" stroke-linejoin="round"/>
<path d="M671.7,350 673,350.3 672.7,353.3 671.7,353Z" fill="#fe9929" stroke="#5e5048" stroke-opacity=".65" stroke-width=".5" stroke-linejoin="round"/>
<path d="M704.9,349.8 710.2,347.6 713.4,343.4 715.5,345.5 712.4,350.8 707.1,351.9Z" fill="url(#hatch)" stroke="#cdcdcd" stroke-width=".7" stroke-linejoin="round"/>
<path d="M718.7,349.8 722.9,351.9 721.9,352.9Z" fill="url(#hatch)" stroke="#cdcdcd" stroke-width=".7" stroke-linejoin="round"/>
<path d="M726.1,355.1 732.5,358.2 731.4,359.7Z" fill="url(#hatch)" stroke="#cdcdcd" stroke-width=".7" stroke-linejoin="round"/>
<path d="M731.4,360.4 735.7,363.1 734.6,363.5Z" fill="url(#hatch)" stroke="#cdcdcd" stroke-width=".7" stroke-linejoin="round"/>
<path d="M743.1,374.1 745.2,378.8 743.9,379.4Z" fill="url(#hatch)" stroke="#cdcdcd" stroke-width=".7" stroke-linejoin="round"/>
<path d="M734.6,388.9 737.8,392.1 739.9,394.2 738.4,394.7 735.7,392.1Z" fill="url(#hatch)" stroke="#cdcdcd" stroke-width=".7" stroke-linejoin="round"/>
<path d="M637,290 640.8,290 642.5,295 641.3,299.2 645,300.8 648.3,303.3 650.8,305.8 649.2,307.5 645.8,305 642.5,303.3 639.2,300 638,295Z" fill="#fe9929" stroke="#5e5048" stroke-opacity=".65" stroke-width=".5" stroke-linejoin="round"/>
<path d="M642.5,305.8 645.8,306.7 647.5,310 645,309.2Z" fill="#fe9929" stroke="#5e5048" stroke-opacity=".65" stroke-width=".5" stroke-linejoin="round"/>
<path d="M632.5,313.3 636.7,306.7 638,307.5 633.7,314.2Z" fill="#fe9929" stroke="#5e5048" stroke-opacity=".65" stroke-width=".5" stroke-linejoin="round"/>
<path d="M643.3,315.8 647.5,313.3 650.8,310.8 653.3,312.5 653.7,317.5 651.7,320.8 649.2,318.3 646.7,317.5 644.2,317.5Z" fill="#fe9929" stroke="#5e5048" stroke-opacity=".65" stroke-width=".5" stroke-linejoin="round"/>
<path d="M648.3,306.7 650.8,307.5 651.7,310.8 649.7,310Z" fill="#fe9929" stroke="#5e5048" stroke-opacity=".65" stroke-width=".5" stroke-linejoin="round"/>
<path d="M633.6,272 636,270 637,274 635,278.6 633.2,276Z" fill="url(#hatch)" stroke="#cdcdcd" stroke-width=".7" stroke-linejoin="round"/>
<path d="M609.6,284 613,283 614.4,286 612,288.6 609.6,287Z" fill="#fec44f" stroke="#5e5048" stroke-opacity=".65" stroke-width=".5" stroke-linejoin="round"/>
<path d="M655.5,220 658,218.5 661,221 664,220 666.5,222.5 664.5,225 662,225.5 659.5,226.5 657.5,225 656,222.5Z" fill="url(#hatch)" stroke="#cdcdcd" stroke-width=".7" stroke-linejoin="round"/>
<path d="M659.5,226.5 661.5,228.5 664,231 666,235 667,239 668.5,242.5 666.5,244.5 663,245 660.5,246 658,247 655,247.5 652,247 649.5,248 647,249 648.5,246 651.5,243.5 654.5,242 657,239.5 659,237 660.5,234 660,231 658.5,228.5Z" fill="url(#hatch)" stroke="#cdcdcd" stroke-width=".7" stroke-linejoin="round"/>
<path d="M654.5,249 657.5,248 658,249.5 655.5,250.5Z" fill="url(#hatch)" stroke="#cdcdcd" stroke-width=".7" stroke-linejoin="round"/>
<path d="M648,249.5 650.5,249 652.5,250.5 652,253.5 650.5,254.5 649,253 648.5,251Z" fill="url(#hatch)" stroke="#cdcdcd" stroke-width=".7" stroke-linejoin="round"/>
<path d="M547,311 549.6,310.6 551.2,315 549.6,319.4 547,318.6 546,314.6Z" fill="#fe9929" stroke="#5e5048" stroke-opacity=".65" stroke-width=".5" stroke-linejoin="round"/>
<path d="M448,151 451,148 457,145 466,144 467,145.4 460,147 455,150 454,154 457,156.6 452,155.4 449,154Z" fill="#fe9929" stroke="#5e5048" stroke-opacity=".65" stroke-width=".5" stroke-linejoin="round"/>
<path d="M493.6,137 498,136 506,138 510,140 517,141 516,142.6 509,141.4 500,139.4Z" fill="#fe9929" stroke="#5e5048" stroke-opacity=".65" stroke-width=".5" stroke-linejoin="round"/>
<path d="M574,146 580,145 587,146.6 584,148.6 578,148Z" fill="#fe9929" stroke="#5e5048" stroke-opacity=".65" stroke-width=".5" stroke-linejoin="round"/>
<path d="M587,150 592,150.6 590,152Z" fill="#fe9929" stroke="#5e5048" stroke-opacity=".65" stroke-width=".5" stroke-linejoin="round"/>
<path d="M640,196 644,200 649,206 654,211 657,215.4 654,214 650,209 646,204 642.4,200Z" fill="#fe9929" stroke="#5e5048" stroke-opacity=".65" stroke-width=".5" stroke-linejoin="round"/>
<path d="M378,139 383,138 389,137.2 395,136.8 401.5,137.5 402,138.5 398,139.2 394,139.8 392.5,141 390,142.5 388.5,144.2 386.5,144 384.5,142.2 381,141 379,140Z" fill="#fe9929" stroke="#5e5048" stroke-opacity=".65" stroke-width=".5" stroke-linejoin="round"/>
<path d="M394.5,141.2 399,141.6 399.5,142.8 395,142.8Z" fill="#fe9929" stroke="#5e5048" stroke-opacity=".65" stroke-width=".5" stroke-linejoin="round"/>
<path d="M427,136.5 435,136.2 435.5,137.5 429,137.8Z" fill="#fe9929" stroke="#5e5048" stroke-opacity=".65" stroke-width=".5" stroke-linejoin="round"/>
<path d="M343.8,200.7 344.9,197.8 346.7,195.4 349.6,193.7 351.3,194.3 350.8,196 351.3,197.8 349.9,199.7 347.3,201.3 344.9,201.6Z" fill="#cc4c02" stroke="#5e5048" stroke-opacity=".65" stroke-width=".5" stroke-linejoin="round"/>
<path d="M348.8,193.7 350.8,192.7 352,194.3 351.1,195.8 349.6,195.1Z" fill="#993404" stroke="#5e5048" stroke-opacity=".65" stroke-width=".5" stroke-linejoin="round"/>
<path d="M351.3,186.7 352.5,184.9 355.4,184.3 357.8,184.9 356.6,186.7 358.9,187.3 359.5,190.2 361.3,192.5 362.1,194.8 364.2,197.8 366.5,199.7 365.9,202.4 362.4,203.9 358.3,204.4 354.8,205.1 351.9,205.8 353.7,203.6 356,202.4 357.2,201.3 354.3,201.3 353.4,199.3 355.4,197.2 354,195.4 353.7,192.5 352.3,190.2Z" fill="#993404" stroke="#5e5048" stroke-opacity=".65" stroke-width=".5" stroke-linejoin="round"/>
<path d="M389.5,237 393,236 396,236.5 395,239.5 392,238.5Z" fill="#cc4c02" stroke="#5e5048" stroke-opacity=".65" stroke-width=".5" stroke-linejoin="round"/>
<path d="M380.5,229 383,228.5 383.5,232.5 381.5,234 380.5,232Z" fill="#cc4c02" stroke="#5e5048" stroke-opacity=".65" stroke-width=".5" stroke-linejoin="round"/>
<path d="M381,224.5 382.5,224 382.8,227 381.5,227.5Z" fill="#cc4c02" stroke="#5e5048" stroke-opacity=".65" stroke-width=".5" stroke-linejoin="round"/>
<path d="M384.3,191.2 386.2,191 386.8,192.7 385,193.3Z" fill="#ec7014" stroke="#5e5048" stroke-opacity=".65" stroke-width=".5" stroke-linejoin="round"/>
<path d="M433.5,244.2 435.4,243.2 437.5,242.9 436.8,244.2 435,245.4 433.8,245Z" fill="#fec44f" stroke="#5e5048" stroke-opacity=".65" stroke-width=".5" stroke-linejoin="round"/>
<path d="M216.2,155.3 217.9,152.4 220.9,150.9 225.6,150.2 230.3,151.2 235,150.9 239.7,151.8 241.5,154.1 245.6,155.3 249.1,157.6 250.9,160 249.1,161.8 252.6,163.5 254.4,165.3 251.5,167.6 247.9,167.1 249.1,170 247.9,172.9 244.4,173.5 241.5,175.9 237.9,174.1 235,172.4 231.5,171.4 226.8,170.6 225.6,168.8 230.3,167.9 235,166.5 237.4,164.1 236.2,161.5 232.6,161.8 230.3,164.7 226.8,164.1 225.6,160.8 226.8,158.2 224.4,157.3 222.6,160.6 220.9,164.1 217.9,165.3 215.6,163.5 217.4,160 216.2,157.6Z" fill="#993404" stroke="#5e5048" stroke-opacity=".65" stroke-width=".5" stroke-linejoin="round"/>
<path d="M159.1,154.1 163.2,151.2 166.8,149.1 171.5,148.8 174.4,150.6 178.5,151.8 183.2,152.4 187.9,151.8 191.5,150.6 193.8,151.8 192.6,155.3 195.6,157.6 198.5,158.8 197.4,160.8 192.6,161.2 187.9,161.8 183.2,160.4 178.5,160.8 173.8,161.5 169.7,161.2 168.5,158.8 165.6,156.5 162.1,155.9Z" fill="#993404" stroke="#5e5048" stroke-opacity=".65" stroke-width=".5" stroke-linejoin="round"/>
<path d="M175.6,145.1 180.3,143.5 186.8,142.4 189.1,143.2 185.6,144.7 182.1,145.9 177.9,145.9Z" fill="#993404" stroke="#5e5048" stroke-opacity=".65" stroke-width=".5" stroke-linejoin="round"/>
<path d="M181.5,147.1 185.6,145.9 190.3,145.3 198.5,144.7 200.3,145.9 195,147.4 189.1,148.2 184.4,148.6Z" fill="#993404" stroke="#5e5048" stroke-opacity=".65" stroke-width=".5" stroke-linejoin="round"/>
<path d="M194.4,141.8 200.3,140 200.9,141.2 196.2,142.7Z" fill="#993404" stroke="#5e5048" stroke-opacity=".65" stroke-width=".5" stroke-linejoin="round"/>
<path d="M205.6,145.3 209.1,143.9 213.8,144.7 216.2,146.5 212.6,147.6 207.9,147.4Z" fill="#993404" stroke="#5e5048" stroke-opacity=".65" stroke-width=".5" stroke-linejoin="round"/>
<path d="M208.5,140 213.8,139.4 215,140.8 210.3,141.5Z" fill="#993404" stroke="#5e5048" stroke-opacity=".65" stroke-width=".5" stroke-linejoin="round"/>
<path d="M217.4,141.2 220.9,140.6 222.1,142.4 218.5,142.9Z" fill="#993404" stroke="#5e5048" stroke-opacity=".65" stroke-width=".5" stroke-linejoin="round"/>
<path d="M219.1,146.5 223.2,145.1 229.1,145.3 236.2,145.9 239.1,147.6 235,148.8 229.1,149.1 223.2,148.8 220.3,147.9Z" fill="#993404" stroke="#5e5048" stroke-opacity=".65" stroke-width=".5" stroke-linejoin="round"/>
<path d="M225,141 228,137.4 238,135 250,133.4 264,132.6 278,133.4 274,136 266,138 258,140 254,144 248,147 240,148 235,146 240,143.4 234,142.6 229,143.4Z" fill="#993404" stroke="#5e5048" stroke-opacity=".65" stroke-width=".5" stroke-linejoin="round"/>
<path d="M200.3,152.4 203.2,150.6 206.8,150 208.5,151.8 205.6,153.5 202.1,154.7Z" fill="#993404" stroke="#5e5048" stroke-opacity=".65" stroke-width=".5" stroke-linejoin="round"/>
<path d="M210.3,151.2 213.8,150 216.2,151.8 213.8,153.5 211.5,153.3Z" fill="#993404" stroke="#5e5048" stroke-opacity=".65" stroke-width=".5" stroke-linejoin="round"/>
<path d="M210.5,168.9 213.4,167.8 219.7,171.9 216.4,173.6 211,172.8Z" fill="#993404" stroke="#5e5048" stroke-opacity=".65" stroke-width=".5" stroke-linejoin="round"/>
<path d="M243.5,210.4 245.7,207.7 248.4,204.4 251.1,202.3 252.8,204.4 253.8,207.2 256,208.8 256,212 254.4,213.7 252.8,212 250,213.1 247.3,211.5Z" fill="#993404" stroke="#5e5048" stroke-opacity=".65" stroke-width=".5" stroke-linejoin="round"/>
<path d="M106.5,204.4 109.4,203.8 113.5,207.4 114.1,210.9 111.8,210.3 108.2,207.4Z" fill="#993404" stroke="#5e5048" stroke-opacity=".65" stroke-width=".5" stroke-linejoin="round"/>
<path d="M103.5,196.2 106.5,195.4 105.9,198.5 104.1,200.3Z" fill="#993404" stroke="#5e5048" stroke-opacity=".65" stroke-width=".5" stroke-linejoin="round"/>
<path d="M255,142 260,139 268,136.6 280,134.6 292,133.4 304,132.6 320,132.6 334,134 345,135 338,137 334,140 335,144 332,147 329,151 324,155 328,157 322,159 316,161 308,163 300,166 294,170 289,175 286,179 283,181 279,180 274,176 271.6,171 271,165 273,160 276,157 274,153 271,148 268,145 262,144 257,144.6Z" fill="url(#hatch)" stroke="#cdcdcd" stroke-width=".7" stroke-linejoin="round"/>
<path d="M321.6,168 325,166 330,167 335,166 338.4,168 337,170.6 332,172 327,172.6 323,171Z" fill="url(#hatch)" stroke="#cdcdcd" stroke-width=".7" stroke-linejoin="round"/>
<path d="M51.8,166.8 56.5,163.2 60.6,160.5 62.9,162.6 63.5,165 67.6,165.2 67.6,167.4 64.1,168.3 60,169.7 55.9,170.9 54.1,168.5Z" fill="#fe9929" stroke="#5e5048" stroke-opacity=".65" stroke-width=".5" stroke-linejoin="round"/>
<path d="M171.1,277.5 174.9,275.3 181.4,275.5 186.6,278.1 191.8,280.7 194.4,283.3 191.8,284.3 187.9,283.3 184,280.7 178.8,278.8 173.6,279.4Z" fill="url(#hatch)" stroke="#cdcdcd" stroke-width=".7" stroke-linejoin="round"/>
<path d="M193.7,286.5 199.5,285.9 199.5,288.7 195.6,288.5Z" fill="url(#hatch)" stroke="#cdcdcd" stroke-width=".7" stroke-linejoin="round"/>
<path d="M199.5,285.2 202.1,283.9 206,285.2 207.9,287.2 204.7,288.5 200.8,289.5 199.8,288.2Z" fill="#fec44f" stroke="#5e5048" stroke-opacity=".65" stroke-width=".5" stroke-linejoin="round"/>
<path d="M185.3,287.4 188.5,286.9 189.8,288.5 186.6,289.1Z" fill="url(#hatch)" stroke="#cdcdcd" stroke-width=".7" stroke-linejoin="round"/>
<path d="M209.9,287.4 214,287.2 214,288.7 210.1,288.7Z" fill="url(#hatch)" stroke="#cdcdcd" stroke-width=".7" stroke-linejoin="round"/>
<path d="M8.7,283.5 10.5,282.7 12,284.7 10.2,286.8 9,285.7Z" fill="#cc4c02" stroke="#5e5048" stroke-opacity=".65" stroke-width=".5" stroke-linejoin="round"/>
<path d="M7.2,280.2 9.3,281.1 9,281.8 7.5,280.9Z" fill="#cc4c02" stroke="#5e5048" stroke-opacity=".65" stroke-width=".5" stroke-linejoin="round"/>
<path d="M5.2,279.3 6.7,279.6 6.4,280.2 5.1,279.9Z" fill="#cc4c02" stroke="#5e5048" stroke-opacity=".65" stroke-width=".5" stroke-linejoin="round"/>
<path d="M492.3,388 493.6,387.6 494,389 492.8,389.6Z" fill="#cc4c02" stroke="#5e5048" stroke-opacity=".65" stroke-width=".5" stroke-linejoin="round"/>
</g>
<!-- legend -->
<g id="legend">
<rect x="98.5" y="537.300" width="48" height="11.100" rx=".8" fill="url(#hatch)" stroke="#c4c4c4" stroke-width=".9"/>
<line x1="122.500" y1="534" x2="122.500" y2="537" stroke="#bdbdbd" stroke-width="1"/>
<text class="lg" x="122.500" y="529.700" text-anchor="middle" textLength="46" lengthAdjust="spacingAndGlyphs">No data</text>
<rect x="166.0" y="537.0" width="58.5" height="11.5" fill="#ffffe5"/>
<rect x="224.5" y="537.0" width="58.5" height="11.5" fill="#fff7bc"/>
<rect x="283.0" y="537.0" width="58.5" height="11.5" fill="#fee391"/>
<rect x="341.5" y="537.0" width="58.5" height="11.5" fill="#fec44f"/>
<rect x="400.0" y="537.0" width="58.5" height="11.5" fill="#fe9929"/>
<rect x="458.5" y="537.0" width="58.5" height="11.5" fill="#ec7014"/>
<rect x="517.0" y="537.0" width="58.5" height="11.5" fill="#cc4c02"/>
<rect x="575.5" y="537.0" width="58.5" height="11.5" fill="#993404"/>
<rect x="634.0" y="537.0" width="58.5" height="11.5" fill="#7f2b05"/>
<rect x="692.5" y="537.0" width="58.5" height="11.5" fill="#662506"/>
<rect x="166.0" y="537.0" width="585.0" height="11.5" fill="none" stroke="#a8a8a8" stroke-width=".6"/>
<line x1="166.0" y1="534" x2="166.0" y2="548.5" stroke="#8f8f8f" stroke-opacity=".7" stroke-width=".8"/>
<text class="lg" x="166.0" y="529.700" text-anchor="middle">0%</text>
<line x1="224.5" y1="534" x2="224.5" y2="548.5" stroke="#8f8f8f" stroke-opacity=".7" stroke-width=".8"/>
<text class="lg" x="224.5" y="529.700" text-anchor="middle">10%</text>
<line x1="283.0" y1="534" x2="283.0" y2="548.5" stroke="#8f8f8f" stroke-opacity=".7" stroke-width=".8"/>
<text class="lg" x="283.0" y="529.700" text-anchor="middle">20%</text>
<line x1="341.5" y1="534" x2="341.5" y2="548.5" stroke="#8f8f8f" stroke-opacity=".7" stroke-width=".8"/>
<text class="lg" x="341.5" y="529.700" text-anchor="middle">30%</text>
<line x1="400.0" y1="534" x2="400.0" y2="548.5" stroke="#8f8f8f" stroke-opacity=".7" stroke-width=".8"/>
<text class="lg" x="400.0" y="529.700" text-anchor="middle">40%</text>
<line x1="458.5" y1="534" x2="458.5" y2="548.5" stroke="#8f8f8f" stroke-opacity=".7" stroke-width=".8"/>
<text class="lg" x="458.5" y="529.700" text-anchor="middle">50%</text>
<line x1="517.0" y1="534" x2="517.0" y2="548.5" stroke="#8f8f8f" stroke-opacity=".7" stroke-width=".8"/>
<text class="lg" x="517.0" y="529.700" text-anchor="middle">60%</text>
<line x1="575.5" y1="534" x2="575.5" y2="548.5" stroke="#8f8f8f" stroke-opacity=".7" stroke-width=".8"/>
<text class="lg" x="575.5" y="529.700" text-anchor="middle">70%</text>
<line x1="634.0" y1="534" x2="634.0" y2="548.5" stroke="#8f8f8f" stroke-opacity=".7" stroke-width=".8"/>
<text class="lg" x="634.0" y="529.700" text-anchor="middle">80%</text>
<line x1="692.5" y1="534" x2="692.5" y2="548.5" stroke="#8f8f8f" stroke-opacity=".7" stroke-width=".8"/>
<text class="lg" x="692.5" y="529.700" text-anchor="middle">90%</text>
<line x1="751.0" y1="534" x2="751.0" y2="548.5" stroke="#8f8f8f" stroke-opacity=".7" stroke-width=".8"/>
<text class="lg" x="751.0" y="529.700" text-anchor="middle">100%</text>
</g>
<!-- footer -->
<text class="ft" x="16" y="581" textLength="262" lengthAdjust="spacingAndGlyphs"><tspan font-weight="bold">Data source:</tspan> Wellcome Global Monitor (2021)</text>
<text class="ft" x="831" y="581" text-anchor="end" textLength="247" lengthAdjust="spacingAndGlyphs">OurWorldinData.org/mental-health | CC BY</text>
</svg>
</body>
</html>
